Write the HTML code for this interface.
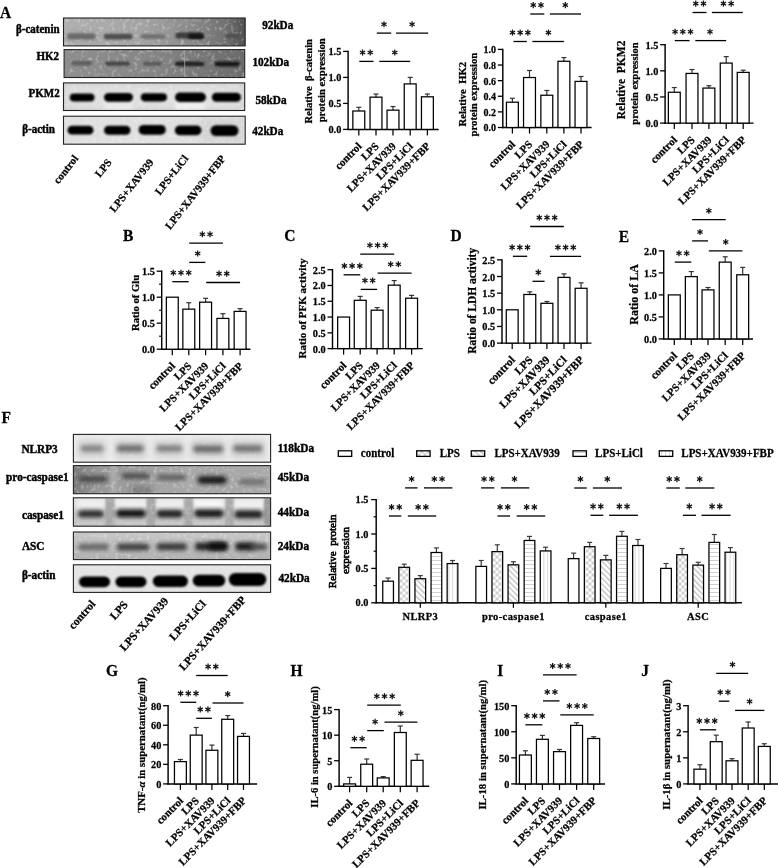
<!DOCTYPE html><html><head><meta charset="utf-8"><style>html,body{margin:0;padding:0;background:#fff;}svg{display:block;will-change:transform;filter:blur(0.3px);}</style></head><body>
<svg width="778" height="868" viewBox="0 0 778 868">
<defs>
<g id="star" fill="#111"><path d="M-0.62,-3.05 h1.24 v6.1 h-1.24z"/><path d="M-0.62,-3.05 h1.24 v6.1 h-1.24z" transform="rotate(60)"/><path d="M-0.62,-3.05 h1.24 v6.1 h-1.24z" transform="rotate(-60)"/></g>
<filter id="b1" x="-50%" y="-50%" width="200%" height="200%"><feGaussianBlur stdDeviation="1.2"/></filter>
<filter id="b2" x="-50%" y="-50%" width="200%" height="200%"><feGaussianBlur stdDeviation="2"/></filter>
<filter id="b3" x="-50%" y="-50%" width="200%" height="200%"><feGaussianBlur stdDeviation="3"/></filter>
<pattern id="pcross" width="6" height="6" patternUnits="userSpaceOnUse" x="0.5" y="0.5"><rect width="6" height="6" fill="#fff"/><rect width="3" height="3" fill="#cfcfcf"/><rect x="3" y="3" width="3" height="3" fill="#cfcfcf"/></pattern>
<pattern id="pdiag" width="4" height="4" patternUnits="userSpaceOnUse" patternTransform="rotate(-45)"><rect width="4" height="4" fill="#fff"/><rect width="1.3" height="4" fill="#bdbdbd"/></pattern>
<pattern id="phor" width="4" height="4" patternUnits="userSpaceOnUse"><rect width="4" height="4" fill="#fff"/><rect width="4" height="0.9" fill="#cccccc"/></pattern>
<pattern id="pver" width="3.8" height="4" patternUnits="userSpaceOnUse"><rect width="3.8" height="4" fill="#fff"/><rect width="0.7" height="4" fill="#c8c8c8"/></pattern>
</defs>
<rect width="778" height="868" fill="#fff"/>
<defs>
<filter id="nz" x="0" y="0" width="100%" height="100%"><feTurbulence type="fractalNoise" baseFrequency="0.26" numOctaves="2" seed="11" result="t"/><feColorMatrix in="t" type="matrix" values="0 0 0 0 1  0 0 0 0 1  0 0 0 0 1  0 0 0 4 -2.1"/></filter>
<linearGradient id="gbc" x1="0" x2="1" y1="0" y2="0"><stop offset="0" stop-color="#b0b0b0"/><stop offset="0.45" stop-color="#a2a2a2"/><stop offset="0.72" stop-color="#888"/><stop offset="0.9" stop-color="#707070"/><stop offset="1" stop-color="#505050"/></linearGradient>
<linearGradient id="ghk" x1="0" x2="1" y1="0" y2="0"><stop offset="0" stop-color="#8e8e8e"/><stop offset="0.5" stop-color="#858585"/><stop offset="1" stop-color="#6a6a6a"/></linearGradient>
<linearGradient id="gpc" x1="0" x2="1" y1="0" y2="0"><stop offset="0" stop-color="#7a7a7a"/><stop offset="0.12" stop-color="#969696"/><stop offset="0.5" stop-color="#a6a6a6"/><stop offset="1" stop-color="#a8a8a8"/></linearGradient>
<linearGradient id="gcs" x1="0" x2="0" y1="0" y2="1"><stop offset="0" stop-color="#dcdcdc"/><stop offset="0.5" stop-color="#cfcfcf"/><stop offset="1" stop-color="#c4c4c4"/></linearGradient>
<linearGradient id="gasc" x1="0" x2="0" y1="0" y2="1"><stop offset="0" stop-color="#c8c8c8"/><stop offset="1" stop-color="#b0b0b0"/></linearGradient>
</defs>
<clipPath id="c63_18"><rect x="63.5" y="18.0" width="181.70" height="27.90"/></clipPath>
<g clip-path="url(#c63_18)">
<rect x="63.5" y="18.0" width="181.70" height="27.90" fill="url(#gbc)"/>
<rect x="66.00" y="32.00" width="32.00" height="9.00" fill="#8a8a8a" opacity="0.5" filter="url(#b2)"/>
<rect x="63.5" y="18.0" width="181.70" height="27.90" fill="#fff" filter="url(#nz)" opacity="0.28"/>
<rect x="67.50" y="33.60" width="27.50" height="5.60" rx="2.80" fill="#666" opacity="0.95" filter="url(#b1)"/>
<rect x="103.70" y="33.80" width="28.80" height="5.60" rx="2.80" fill="#4e4e4e" opacity="1.0" filter="url(#b1)"/>
<rect x="140.60" y="34.10" width="24.90" height="5.00" rx="2.50" fill="#727272" opacity="1.0" filter="url(#b1)"/>
<rect x="175.50" y="32.30" width="27.50" height="6.20" rx="3.10" fill="#3c3c3c" opacity="1.0" filter="url(#b1)"/>
<rect x="188.00" y="33.70" width="16.00" height="5.40" rx="2.70" fill="#161616" opacity="1.0" filter="url(#b1)"/>
<rect x="225.50" y="33.80" width="14.00" height="4.40" rx="2.20" fill="#505050" opacity="1.0" filter="url(#b1)"/>
</g>
<rect x="63.5" y="18.0" width="181.70" height="27.90" fill="none" stroke="#222" stroke-width="1.1"/>
<clipPath id="c64_49"><rect x="64.1" y="49.6" width="180.60" height="27.90"/></clipPath>
<g clip-path="url(#c64_49)">
<rect x="64.1" y="49.6" width="180.60" height="27.90" fill="url(#ghk)"/>
<rect x="64.1" y="49.6" width="180.60" height="27.90" fill="#fff" filter="url(#nz)" opacity="0.28"/>
<rect x="71.50" y="61.10" width="20.50" height="4.40" rx="2.20" fill="#5e5e5e" opacity="1.0" filter="url(#b1)"/>
<rect x="105.20" y="61.40" width="24.80" height="4.40" rx="2.20" fill="#444" opacity="1.0" filter="url(#b1)"/>
<rect x="143.00" y="61.80" width="18.50" height="4.00" rx="2.00" fill="#585858" opacity="1.0" filter="url(#b1)"/>
<rect x="175.00" y="61.40" width="29.50" height="4.80" rx="2.40" fill="#222" opacity="1.0" filter="url(#b1)"/>
<rect x="214.50" y="61.60" width="25.50" height="4.80" rx="2.40" fill="#181818" opacity="1.0" filter="url(#b1)"/>
<rect x="184" y="49.6" width="1.2" height="28" fill="#b0b0b0" opacity="0.6"/>
</g>
<rect x="64.1" y="49.6" width="180.60" height="27.90" fill="none" stroke="#222" stroke-width="1.1"/>
<clipPath id="c63_82"><rect x="63.5" y="82.9" width="181.20" height="27.60"/></clipPath>
<g clip-path="url(#c63_82)">
<rect x="63.5" y="82.9" width="181.20" height="27.60" fill="#d2d2d2"/>
<rect x="66.00" y="86.00" width="175.00" height="22.00" fill="#e4e4e4" opacity="0.8" filter="url(#b3)"/>
<rect x="175.00" y="102.00" width="30.00" height="8.00" fill="#f2f2f2" opacity="0.9" filter="url(#b2)"/>
<rect x="104.00" y="102.00" width="29.00" height="8.00" fill="#eeeeee" opacity="0.8" filter="url(#b2)"/>
<rect x="63.5" y="82.9" width="181.20" height="27.60" fill="#fff" filter="url(#nz)" opacity="0.28"/>
<rect x="69.80" y="93.60" width="24.70" height="8.00" rx="4.00" fill="#060606" opacity="1.0" filter="url(#b1)"/>
<rect x="104.00" y="92.90" width="29.00" height="8.80" rx="4.40" fill="#060606" opacity="1.0" filter="url(#b1)"/>
<rect x="140.80" y="93.20" width="26.20" height="8.20" rx="4.10" fill="#060606" opacity="1.0" filter="url(#b1)"/>
<rect x="175.00" y="92.60" width="31.00" height="9.40" rx="4.70" fill="#060606" opacity="1.0" filter="url(#b1)"/>
<rect x="211.80" y="92.70" width="29.20" height="9.00" rx="4.50" fill="#060606" opacity="1.0" filter="url(#b1)"/>
</g>
<rect x="63.5" y="82.9" width="181.20" height="27.60" fill="none" stroke="#222" stroke-width="1.1"/>
<clipPath id="c63_116"><rect x="63.5" y="116.2" width="181.70" height="28.00"/></clipPath>
<g clip-path="url(#c63_116)">
<rect x="63.5" y="116.2" width="181.70" height="28.00" fill="#e0e0e0"/>
<rect x="200.00" y="117.00" width="45.00" height="27.00" fill="#d0d0d0" opacity="0.7" filter="url(#b3)"/>
<rect x="63.5" y="116.2" width="181.70" height="28.00" fill="#fff" filter="url(#nz)" opacity="0.28"/>
<rect x="67.50" y="125.80" width="26.00" height="8.80" rx="4.40" fill="#060606" opacity="1.0" filter="url(#b1)"/>
<rect x="104.00" y="125.70" width="26.50" height="9.00" rx="4.50" fill="#060606" opacity="1.0" filter="url(#b1)"/>
<rect x="138.60" y="124.90" width="27.20" height="9.80" rx="4.90" fill="#060606" opacity="1.0" filter="url(#b1)"/>
<rect x="174.80" y="125.60" width="26.70" height="9.60" rx="4.80" fill="#060606" opacity="1.0" filter="url(#b1)"/>
<rect x="210.50" y="125.20" width="28.00" height="10.80" rx="5.40" fill="#060606" opacity="1.0" filter="url(#b1)"/>
</g>
<rect x="63.5" y="116.2" width="181.70" height="28.00" fill="none" stroke="#222" stroke-width="1.1"/>
<text x="0" y="0" transform="translate(16.00,32.60) scale(1,1.06)" font-size="11" text-anchor="start" font-weight="bold" font-family='"Liberation Serif", serif' fill="#000" stroke="#000" stroke-width="0.4" >β-catenin</text>
<text x="0" y="0" transform="translate(36.50,60.10) scale(1,1.06)" font-size="11" text-anchor="start" font-weight="bold" font-family='"Liberation Serif", serif' fill="#000" stroke="#000" stroke-width="0.4" >HK2</text>
<text x="0" y="0" transform="translate(28.60,97.40) scale(1,1.06)" font-size="11" text-anchor="start" font-weight="bold" font-family='"Liberation Serif", serif' fill="#000" stroke="#000" stroke-width="0.4" >PKM2</text>
<text x="0" y="0" transform="translate(22.20,133.40) scale(1,1.06)" font-size="11" text-anchor="start" font-weight="bold" font-family='"Liberation Serif", serif' fill="#000" stroke="#000" stroke-width="0.4" >β-actin</text>
<text x="0" y="0" transform="translate(262.20,28.80) scale(1,1.06)" font-size="11.2" text-anchor="start" font-weight="bold" font-family='"Liberation Serif", serif' fill="#000" stroke="#000" stroke-width="0.4" >92kDa</text>
<text x="0" y="0" transform="translate(252.40,66.40) scale(1,1.06)" font-size="11.2" text-anchor="start" font-weight="bold" font-family='"Liberation Serif", serif' fill="#000" stroke="#000" stroke-width="0.4" >102kDa</text>
<text x="0" y="0" transform="translate(255.40,103.60) scale(1,1.06)" font-size="11.2" text-anchor="start" font-weight="bold" font-family='"Liberation Serif", serif' fill="#000" stroke="#000" stroke-width="0.4" >58kDa</text>
<text x="0" y="0" transform="translate(252.20,135.20) scale(1,1.06)" font-size="11.2" text-anchor="start" font-weight="bold" font-family='"Liberation Serif", serif' fill="#000" stroke="#000" stroke-width="0.4" >42kDa</text>
<text x="0" y="0" transform="translate(78.80,158.70) rotate(-52)" font-size="10.8" text-anchor="end" font-weight="bold" font-family='"Liberation Serif", serif' fill="#000" stroke="#000" stroke-width="0.25" >control</text>
<text x="0" y="0" transform="translate(112.20,162.50) rotate(-52)" font-size="10.8" text-anchor="end" font-weight="bold" font-family='"Liberation Serif", serif' fill="#000" stroke="#000" stroke-width="0.25" >LPS</text>
<text x="0" y="0" transform="translate(154.10,162.50) rotate(-52)" font-size="10.8" text-anchor="end" font-weight="bold" font-family='"Liberation Serif", serif' fill="#000" stroke="#000" stroke-width="0.25" >LPS+XAV939</text>
<text x="0" y="0" transform="translate(188.80,158.70) rotate(-52)" font-size="10.8" text-anchor="end" font-weight="bold" font-family='"Liberation Serif", serif' fill="#000" stroke="#000" stroke-width="0.25" >LPS+LiCl</text>
<text x="0" y="0" transform="translate(226.10,158.70) rotate(-52)" font-size="10.8" text-anchor="end" font-weight="bold" font-family='"Liberation Serif", serif' fill="#000" stroke="#000" stroke-width="0.25" >LPS+XAV939+FBP</text>
<clipPath id="c73_434"><rect x="73.4" y="434.4" width="197.20" height="27.80"/></clipPath>
<g clip-path="url(#c73_434)">
<rect x="73.4" y="434.4" width="197.20" height="27.80" fill="#ececec"/>
<rect x="78.00" y="440.00" width="28.00" height="18.00" fill="#cfcfcf" opacity="1.0" filter="url(#b3)"/>
<rect x="115.00" y="440.00" width="31.00" height="18.00" fill="#cccccc" opacity="1.0" filter="url(#b3)"/>
<rect x="154.00" y="440.00" width="30.00" height="18.00" fill="#d0d0d0" opacity="1.0" filter="url(#b3)"/>
<rect x="191.00" y="440.00" width="34.00" height="18.00" fill="#cbcbcb" opacity="1.0" filter="url(#b3)"/>
<rect x="231.00" y="440.00" width="34.00" height="18.00" fill="#cdcdcd" opacity="1.0" filter="url(#b3)"/>
<rect x="73.4" y="434.4" width="197.20" height="27.80" fill="#fff" filter="url(#nz)" opacity="0.2"/>
<rect x="80.70" y="445.60" width="22.60" height="6.00" rx="3.00" fill="#808080" opacity="1.0" filter="url(#b2)"/>
<rect x="116.80" y="445.15" width="26.80" height="6.50" rx="3.25" fill="#6c6c6c" opacity="1.0" filter="url(#b2)"/>
<rect x="156.40" y="445.60" width="25.80" height="6.00" rx="3.00" fill="#7a7a7a" opacity="1.0" filter="url(#b2)"/>
<rect x="193.40" y="445.75" width="29.70" height="6.50" rx="3.25" fill="#666" opacity="1.0" filter="url(#b2)"/>
<rect x="233.30" y="445.25" width="29.10" height="6.50" rx="3.25" fill="#707070" opacity="1.0" filter="url(#b2)"/>
</g>
<rect x="73.4" y="434.4" width="197.20" height="27.80" fill="none" stroke="#222" stroke-width="1.1"/>
<clipPath id="c73_465"><rect x="73.4" y="465.6" width="197.20" height="28.10"/></clipPath>
<g clip-path="url(#c73_465)">
<rect x="73.4" y="465.6" width="197.20" height="28.10" fill="url(#gpc)"/>
<rect x="111.00" y="466.00" width="5.00" height="28.00" fill="#b8b8b8" opacity="0.8" filter="url(#b2)"/>
<rect x="185.00" y="466.00" width="8.00" height="28.00" fill="#b0b0b0" opacity="0.6" filter="url(#b2)"/>
<rect x="130.00" y="486.00" width="22.00" height="8.00" fill="#6a6a6a" opacity="0.6" filter="url(#b2)"/>
<rect x="73.4" y="465.6" width="197.20" height="28.10" fill="#fff" filter="url(#nz)" opacity="0.28"/>
<rect x="78.60" y="475.65" width="29.00" height="6.50" rx="3.25" fill="#4a4a4a" opacity="1.0" filter="url(#b2)"/>
<rect x="121.70" y="473.25" width="28.30" height="5.50" rx="2.75" fill="#4a4a4a" opacity="1.0" filter="url(#b2)"/>
<rect x="157.00" y="474.75" width="29.00" height="5.50" rx="2.75" fill="#5c5c5c" opacity="1.0" filter="url(#b2)"/>
<rect x="197.70" y="476.25" width="29.00" height="7.50" rx="3.75" fill="#181818" opacity="1.0" filter="url(#b2)"/>
<rect x="238.70" y="479.25" width="27.30" height="5.50" rx="2.75" fill="#6a6a6a" opacity="1.0" filter="url(#b2)"/>
</g>
<rect x="73.4" y="465.6" width="197.20" height="28.10" fill="none" stroke="#222" stroke-width="1.1"/>
<clipPath id="c73_497"><rect x="73.4" y="497.8" width="197.20" height="28.40"/></clipPath>
<g clip-path="url(#c73_497)">
<rect x="73.4" y="497.8" width="197.20" height="28.40" fill="url(#gcs)"/>
<rect x="76.00" y="499.00" width="30.00" height="10.00" fill="#eeeeee" opacity="1.0" filter="url(#b2)"/>
<rect x="115.00" y="499.00" width="32.00" height="10.00" fill="#eeeeee" opacity="1.0" filter="url(#b2)"/>
<rect x="156.00" y="499.00" width="28.00" height="10.00" fill="#ececec" opacity="1.0" filter="url(#b2)"/>
<rect x="194.00" y="499.00" width="30.00" height="10.00" fill="#f6f6f6" opacity="1.0" filter="url(#b2)"/>
<rect x="234.00" y="499.00" width="30.00" height="10.00" fill="#f0f0f0" opacity="1.0" filter="url(#b2)"/>
<rect x="105.50" y="498.00" width="9.00" height="28.00" fill="#a8a8a8" opacity="1.0" filter="url(#b1)"/>
<rect x="146.50" y="498.00" width="9.00" height="28.00" fill="#a8a8a8" opacity="1.0" filter="url(#b1)"/>
<rect x="184.00" y="498.00" width="9.00" height="28.00" fill="#aaaaaa" opacity="1.0" filter="url(#b1)"/>
<rect x="225.50" y="498.00" width="8.00" height="28.00" fill="#a8a8a8" opacity="1.0" filter="url(#b1)"/>
<rect x="264.00" y="498.00" width="8.00" height="28.00" fill="#9a9a9a" opacity="1.0" filter="url(#b1)"/>
<rect x="73.4" y="497.8" width="197.20" height="28.40" fill="#fff" filter="url(#nz)" opacity="0.2"/>
<rect x="77.90" y="510.20" width="26.10" height="7.40" rx="3.70" fill="#2a2a2a" opacity="1.0" filter="url(#b2)"/>
<rect x="116.00" y="509.50" width="29.80" height="7.80" rx="3.90" fill="#101010" opacity="1.0" filter="url(#b2)"/>
<rect x="156.40" y="510.00" width="26.60" height="7.60" rx="3.80" fill="#1c1c1c" opacity="1.0" filter="url(#b2)"/>
<rect x="194.20" y="509.40" width="29.60" height="7.80" rx="3.90" fill="#141414" opacity="1.0" filter="url(#b2)"/>
<rect x="234.40" y="510.50" width="28.30" height="7.80" rx="3.90" fill="#1a1a1a" opacity="1.0" filter="url(#b2)"/>
</g>
<rect x="73.4" y="497.8" width="197.20" height="28.40" fill="none" stroke="#222" stroke-width="1.1"/>
<clipPath id="c73_532"><rect x="73.4" y="532.0" width="197.20" height="27.60"/></clipPath>
<g clip-path="url(#c73_532)">
<rect x="73.4" y="532.0" width="197.20" height="27.60" fill="url(#gasc)"/>
<rect x="73.4" y="532.0" width="197.20" height="27.60" fill="#fff" filter="url(#nz)" opacity="0.28"/>
<rect x="78.00" y="543.85" width="31.00" height="6.50" rx="3.25" fill="#666" opacity="1.0" filter="url(#b2)"/>
<rect x="116.80" y="543.50" width="32.50" height="7.00" rx="3.50" fill="#3c3c3c" opacity="1.0" filter="url(#b2)"/>
<rect x="156.40" y="543.30" width="30.60" height="7.00" rx="3.50" fill="#363636" opacity="1.0" filter="url(#b2)"/>
<rect x="194.90" y="542.40" width="32.50" height="8.00" rx="4.00" fill="#202020" opacity="1.0" filter="url(#b2)"/>
<rect x="208.00" y="542.45" width="19.40" height="7.50" rx="3.75" fill="#0c0c0c" opacity="1.0" filter="url(#b2)"/>
<rect x="235.20" y="542.40" width="19.80" height="8.00" rx="4.00" fill="#161616" opacity="1.0" filter="url(#b2)"/>
<rect x="250.00" y="543.55" width="17.00" height="6.50" rx="3.25" fill="#484848" opacity="1.0" filter="url(#b2)"/>
</g>
<rect x="73.4" y="532.0" width="197.20" height="27.60" fill="none" stroke="#222" stroke-width="1.1"/>
<clipPath id="c73_564"><rect x="73.4" y="564.8" width="197.20" height="27.60"/></clipPath>
<g clip-path="url(#c73_564)">
<rect x="73.4" y="564.8" width="197.20" height="27.60" fill="#e4e4e4"/>
<rect x="73.4" y="564.8" width="197.20" height="27.60" fill="#fff" filter="url(#nz)" opacity="0.2"/>
<rect x="79.00" y="576.40" width="31.10" height="10.80" rx="5.40" fill="#040404" opacity="1.0" filter="url(#b1)"/>
<rect x="115.40" y="576.40" width="31.10" height="10.80" rx="5.40" fill="#040404" opacity="1.0" filter="url(#b1)"/>
<rect x="152.80" y="575.50" width="35.20" height="11.40" rx="5.70" fill="#040404" opacity="1.0" filter="url(#b1)"/>
<rect x="192.70" y="574.80" width="32.60" height="11.60" rx="5.80" fill="#040404" opacity="1.0" filter="url(#b1)"/>
<rect x="228.80" y="572.90" width="37.50" height="13.00" rx="6.50" fill="#040404" opacity="1.0" filter="url(#b1)"/>
</g>
<rect x="73.4" y="564.8" width="197.20" height="27.60" fill="none" stroke="#222" stroke-width="1.1"/>
<text x="0" y="0" transform="translate(21.40,452.60) scale(1,1.06)" font-size="11.3" text-anchor="start" font-weight="bold" font-family='"Liberation Serif", serif' fill="#000" stroke="#000" stroke-width="0.4" >NLRP3</text>
<text x="0" y="0" transform="translate(6.10,480.60) scale(1,1.06)" font-size="11.3" text-anchor="start" font-weight="bold" font-family='"Liberation Serif", serif' fill="#000" stroke="#000" stroke-width="0.4" >pro-caspase1</text>
<text x="0" y="0" transform="translate(21.90,519.20) scale(1,1.06)" font-size="11.3" text-anchor="start" font-weight="bold" font-family='"Liberation Serif", serif' fill="#000" stroke="#000" stroke-width="0.4" >caspase1</text>
<text x="0" y="0" transform="translate(21.90,549.80) scale(1,1.06)" font-size="11.3" text-anchor="start" font-weight="bold" font-family='"Liberation Serif", serif' fill="#000" stroke="#000" stroke-width="0.4" >ASC</text>
<text x="0" y="0" transform="translate(21.90,579.40) scale(1,1.06)" font-size="11.3" text-anchor="start" font-weight="bold" font-family='"Liberation Serif", serif' fill="#000" stroke="#000" stroke-width="0.4" >β-actin</text>
<text x="0" y="0" transform="translate(277.70,452.40) scale(1,1.06)" font-size="11.3" text-anchor="start" font-weight="bold" font-family='"Liberation Serif", serif' fill="#000" stroke="#000" stroke-width="0.4" >118kDa</text>
<text x="0" y="0" transform="translate(277.70,480.60) scale(1,1.06)" font-size="11.3" text-anchor="start" font-weight="bold" font-family='"Liberation Serif", serif' fill="#000" stroke="#000" stroke-width="0.4" >45kDa</text>
<text x="0" y="0" transform="translate(277.70,516.00) scale(1,1.06)" font-size="11.3" text-anchor="start" font-weight="bold" font-family='"Liberation Serif", serif' fill="#000" stroke="#000" stroke-width="0.4" >44kDa</text>
<text x="0" y="0" transform="translate(277.70,549.60) scale(1,1.06)" font-size="11.3" text-anchor="start" font-weight="bold" font-family='"Liberation Serif", serif' fill="#000" stroke="#000" stroke-width="0.4" >24kDa</text>
<text x="0" y="0" transform="translate(278.40,582.00) scale(1,1.06)" font-size="11.3" text-anchor="start" font-weight="bold" font-family='"Liberation Serif", serif' fill="#000" stroke="#000" stroke-width="0.4" >42kDa</text>
<text x="0" y="0" transform="translate(96.20,604.40) rotate(-48.5)" font-size="11.3" text-anchor="end" font-weight="bold" font-family='"Liberation Serif", serif' fill="#000" stroke="#000" stroke-width="0.25" >control</text>
<text x="0" y="0" transform="translate(128.40,605.00) rotate(-48.5)" font-size="11.3" text-anchor="end" font-weight="bold" font-family='"Liberation Serif", serif' fill="#000" stroke="#000" stroke-width="0.25" >LPS</text>
<text x="0" y="0" transform="translate(168.90,601.60) rotate(-48.5)" font-size="11.3" text-anchor="end" font-weight="bold" font-family='"Liberation Serif", serif' fill="#000" stroke="#000" stroke-width="0.25" >LPS+XAV939</text>
<text x="0" y="0" transform="translate(206.50,604.40) rotate(-48.5)" font-size="11.3" text-anchor="end" font-weight="bold" font-family='"Liberation Serif", serif' fill="#000" stroke="#000" stroke-width="0.25" >LPS+LiCl</text>
<text x="0" y="0" transform="translate(246.60,600.20) rotate(-48.5)" font-size="11.3" text-anchor="end" font-weight="bold" font-family='"Liberation Serif", serif' fill="#000" stroke="#000" stroke-width="0.25" >LPS+XAV939+FBP</text>
<line x1="348.10" y1="50.70" x2="348.10" y2="130.10" stroke="#000" stroke-width="1.45"/>
<line x1="347.40" y1="129.40" x2="438.60" y2="129.40" stroke="#000" stroke-width="1.45"/>
<line x1="343.10" y1="129.40" x2="348.10" y2="129.40" stroke="#000" stroke-width="1.3"/>
<text x="0" y="0" transform="translate(341.30,133.40) scale(1,1.06)" font-size="10.3" text-anchor="end" font-weight="bold" font-family='"Liberation Serif", serif' fill="#000" stroke="#000" stroke-width="0.25" >0.0</text>
<line x1="343.10" y1="103.40" x2="348.10" y2="103.40" stroke="#000" stroke-width="1.3"/>
<text x="0" y="0" transform="translate(341.30,107.40) scale(1,1.06)" font-size="10.3" text-anchor="end" font-weight="bold" font-family='"Liberation Serif", serif' fill="#000" stroke="#000" stroke-width="0.25" >0.5</text>
<line x1="343.10" y1="77.40" x2="348.10" y2="77.40" stroke="#000" stroke-width="1.3"/>
<text x="0" y="0" transform="translate(341.30,81.40) scale(1,1.06)" font-size="10.3" text-anchor="end" font-weight="bold" font-family='"Liberation Serif", serif' fill="#000" stroke="#000" stroke-width="0.25" >1.0</text>
<line x1="343.10" y1="51.40" x2="348.10" y2="51.40" stroke="#000" stroke-width="1.3"/>
<text x="0" y="0" transform="translate(341.30,55.40) scale(1,1.06)" font-size="10.3" text-anchor="end" font-weight="bold" font-family='"Liberation Serif", serif' fill="#000" stroke="#000" stroke-width="0.25" >1.5</text>
<line x1="358.80" y1="129.40" x2="358.80" y2="135.40" stroke="#000" stroke-width="1.25"/>
<line x1="376.00" y1="129.40" x2="376.00" y2="135.40" stroke="#000" stroke-width="1.25"/>
<line x1="393.00" y1="129.40" x2="393.00" y2="135.40" stroke="#000" stroke-width="1.25"/>
<line x1="410.20" y1="129.40" x2="410.20" y2="135.40" stroke="#000" stroke-width="1.25"/>
<line x1="427.40" y1="129.40" x2="427.40" y2="135.40" stroke="#000" stroke-width="1.25"/>
<line x1="358.80" y1="110.99" x2="358.80" y2="107.30" stroke="#333" stroke-width="1.2"/>
<line x1="356.30" y1="107.30" x2="361.30" y2="107.30" stroke="#333" stroke-width="1.2"/>
<rect x="352.85" y="110.99" width="11.90" height="18.41" fill="#fff" stroke="#000" stroke-width="1.25"/>
<line x1="376.00" y1="97.16" x2="376.00" y2="94.04" stroke="#333" stroke-width="1.2"/>
<line x1="373.50" y1="94.04" x2="378.50" y2="94.04" stroke="#333" stroke-width="1.2"/>
<rect x="370.05" y="97.16" width="11.90" height="32.24" fill="#fff" stroke="#000" stroke-width="1.25"/>
<line x1="393.00" y1="110.16" x2="393.00" y2="106.52" stroke="#333" stroke-width="1.2"/>
<line x1="390.50" y1="106.52" x2="395.50" y2="106.52" stroke="#333" stroke-width="1.2"/>
<rect x="387.05" y="110.16" width="11.90" height="19.24" fill="#fff" stroke="#000" stroke-width="1.25"/>
<line x1="410.20" y1="83.90" x2="410.20" y2="77.40" stroke="#333" stroke-width="1.2"/>
<line x1="407.70" y1="77.40" x2="412.70" y2="77.40" stroke="#333" stroke-width="1.2"/>
<rect x="404.25" y="83.90" width="11.90" height="45.50" fill="#fff" stroke="#000" stroke-width="1.25"/>
<line x1="427.40" y1="96.80" x2="427.40" y2="94.04" stroke="#333" stroke-width="1.2"/>
<line x1="424.90" y1="94.04" x2="429.90" y2="94.04" stroke="#333" stroke-width="1.2"/>
<rect x="421.45" y="96.80" width="11.90" height="32.60" fill="#fff" stroke="#000" stroke-width="1.25"/>
<line x1="359.30" y1="61.40" x2="373.50" y2="61.40" stroke="#000" stroke-width="1.3"/>
<use href="#star" transform="translate(362.55,52.50) scale(1.000)"/>
<use href="#star" transform="translate(370.25,52.50) scale(1.000)"/>
<line x1="379.30" y1="61.40" x2="410.20" y2="61.40" stroke="#000" stroke-width="1.3"/>
<use href="#star" transform="translate(394.75,52.50) scale(1.000)"/>
<line x1="376.80" y1="33.10" x2="391.20" y2="33.10" stroke="#000" stroke-width="1.3"/>
<use href="#star" transform="translate(384.00,24.20) scale(1.000)"/>
<line x1="396.00" y1="33.10" x2="428.20" y2="33.10" stroke="#000" stroke-width="1.3"/>
<use href="#star" transform="translate(412.10,24.20) scale(1.000)"/>
<text x="0" y="0" transform="translate(311.80,81.20) rotate(-90)" font-size="10.6" text-anchor="middle" font-weight="bold" font-family='"Liberation Serif", serif' fill="#000" stroke="#000" stroke-width="0.25" >Relative&#160;&#160;β-catenin</text>
<text x="0" y="0" transform="translate(324.70,80.30) rotate(-90)" font-size="10.75" text-anchor="middle" font-weight="bold" font-family='"Liberation Serif", serif' fill="#000" stroke="#000" stroke-width="0.25" >protein expression</text>
<text x="0" y="0" transform="translate(362.30,146.90) scale(1,1.01) rotate(-45)" font-size="10.8" text-anchor="end" font-weight="bold" font-family='"Liberation Serif", serif' fill="#000" stroke="#000" stroke-width="0.25" >control</text>
<text x="0" y="0" transform="translate(379.50,146.90) scale(1,1.01) rotate(-45)" font-size="10.8" text-anchor="end" font-weight="bold" font-family='"Liberation Serif", serif' fill="#000" stroke="#000" stroke-width="0.25" >LPS</text>
<text x="0" y="0" transform="translate(396.50,146.90) scale(1,1.01) rotate(-45)" font-size="10.8" text-anchor="end" font-weight="bold" font-family='"Liberation Serif", serif' fill="#000" stroke="#000" stroke-width="0.25" >LPS+XAV939</text>
<text x="0" y="0" transform="translate(413.70,146.90) scale(1,1.01) rotate(-45)" font-size="10.8" text-anchor="end" font-weight="bold" font-family='"Liberation Serif", serif' fill="#000" stroke="#000" stroke-width="0.25" >LPS+LiCl</text>
<text x="0" y="0" transform="translate(430.90,146.90) scale(1,1.01) rotate(-45)" font-size="10.8" text-anchor="end" font-weight="bold" font-family='"Liberation Serif", serif' fill="#000" stroke="#000" stroke-width="0.25" >LPS+XAV939+FBP</text>
<line x1="502.80" y1="48.70" x2="502.80" y2="128.20" stroke="#000" stroke-width="1.45"/>
<line x1="502.10" y1="127.50" x2="591.60" y2="127.50" stroke="#000" stroke-width="1.45"/>
<line x1="497.80" y1="127.50" x2="502.80" y2="127.50" stroke="#000" stroke-width="1.3"/>
<text x="0" y="0" transform="translate(496.00,131.40) scale(1,1.06)" font-size="10.0" text-anchor="end" font-weight="bold" font-family='"Liberation Serif", serif' fill="#000" stroke="#000" stroke-width="0.25" >0.0</text>
<line x1="497.80" y1="111.88" x2="502.80" y2="111.88" stroke="#000" stroke-width="1.3"/>
<text x="0" y="0" transform="translate(496.00,115.78) scale(1,1.06)" font-size="10.0" text-anchor="end" font-weight="bold" font-family='"Liberation Serif", serif' fill="#000" stroke="#000" stroke-width="0.25" >0.2</text>
<line x1="497.80" y1="96.26" x2="502.80" y2="96.26" stroke="#000" stroke-width="1.3"/>
<text x="0" y="0" transform="translate(496.00,100.16) scale(1,1.06)" font-size="10.0" text-anchor="end" font-weight="bold" font-family='"Liberation Serif", serif' fill="#000" stroke="#000" stroke-width="0.25" >0.4</text>
<line x1="497.80" y1="80.64" x2="502.80" y2="80.64" stroke="#000" stroke-width="1.3"/>
<text x="0" y="0" transform="translate(496.00,84.54) scale(1,1.06)" font-size="10.0" text-anchor="end" font-weight="bold" font-family='"Liberation Serif", serif' fill="#000" stroke="#000" stroke-width="0.25" >0.6</text>
<line x1="497.80" y1="65.02" x2="502.80" y2="65.02" stroke="#000" stroke-width="1.3"/>
<text x="0" y="0" transform="translate(496.00,68.92) scale(1,1.06)" font-size="10.0" text-anchor="end" font-weight="bold" font-family='"Liberation Serif", serif' fill="#000" stroke="#000" stroke-width="0.25" >0.8</text>
<line x1="497.80" y1="49.40" x2="502.80" y2="49.40" stroke="#000" stroke-width="1.3"/>
<text x="0" y="0" transform="translate(496.00,53.30) scale(1,1.06)" font-size="10.0" text-anchor="end" font-weight="bold" font-family='"Liberation Serif", serif' fill="#000" stroke="#000" stroke-width="0.25" >1.0</text>
<line x1="512.40" y1="127.50" x2="512.40" y2="133.50" stroke="#000" stroke-width="1.25"/>
<line x1="529.50" y1="127.50" x2="529.50" y2="133.50" stroke="#000" stroke-width="1.25"/>
<line x1="546.80" y1="127.50" x2="546.80" y2="133.50" stroke="#000" stroke-width="1.25"/>
<line x1="563.90" y1="127.50" x2="563.90" y2="133.50" stroke="#000" stroke-width="1.25"/>
<line x1="581.00" y1="127.50" x2="581.00" y2="133.50" stroke="#000" stroke-width="1.25"/>
<line x1="512.40" y1="102.20" x2="512.40" y2="98.29" stroke="#333" stroke-width="1.2"/>
<line x1="509.90" y1="98.29" x2="514.90" y2="98.29" stroke="#333" stroke-width="1.2"/>
<rect x="506.45" y="102.20" width="11.90" height="25.30" fill="#fff" stroke="#000" stroke-width="1.25"/>
<line x1="529.50" y1="77.52" x2="529.50" y2="70.49" stroke="#333" stroke-width="1.2"/>
<line x1="527.00" y1="70.49" x2="532.00" y2="70.49" stroke="#333" stroke-width="1.2"/>
<rect x="523.55" y="77.52" width="11.90" height="49.98" fill="#fff" stroke="#000" stroke-width="1.25"/>
<line x1="546.80" y1="95.24" x2="546.80" y2="90.48" stroke="#333" stroke-width="1.2"/>
<line x1="544.30" y1="90.48" x2="549.30" y2="90.48" stroke="#333" stroke-width="1.2"/>
<rect x="540.85" y="95.24" width="11.90" height="32.26" fill="#fff" stroke="#000" stroke-width="1.25"/>
<line x1="563.90" y1="61.27" x2="563.90" y2="57.60" stroke="#333" stroke-width="1.2"/>
<line x1="561.40" y1="57.60" x2="566.40" y2="57.60" stroke="#333" stroke-width="1.2"/>
<rect x="557.95" y="61.27" width="11.90" height="66.23" fill="#fff" stroke="#000" stroke-width="1.25"/>
<line x1="581.00" y1="81.42" x2="581.00" y2="76.50" stroke="#333" stroke-width="1.2"/>
<line x1="578.50" y1="76.50" x2="583.50" y2="76.50" stroke="#333" stroke-width="1.2"/>
<rect x="575.05" y="81.42" width="11.90" height="46.08" fill="#fff" stroke="#000" stroke-width="1.25"/>
<line x1="513.50" y1="41.50" x2="526.80" y2="41.50" stroke="#000" stroke-width="1.3"/>
<use href="#star" transform="translate(512.50,32.60) scale(1.000)"/>
<use href="#star" transform="translate(520.20,32.60) scale(1.000)"/>
<use href="#star" transform="translate(527.90,32.60) scale(1.000)"/>
<line x1="532.40" y1="41.50" x2="563.90" y2="41.50" stroke="#000" stroke-width="1.3"/>
<use href="#star" transform="translate(548.40,32.60) scale(1.000)"/>
<line x1="530.30" y1="14.00" x2="544.30" y2="14.00" stroke="#000" stroke-width="1.3"/>
<use href="#star" transform="translate(533.25,5.10) scale(1.000)"/>
<use href="#star" transform="translate(540.95,5.10) scale(1.000)"/>
<line x1="549.90" y1="14.00" x2="581.00" y2="14.00" stroke="#000" stroke-width="1.3"/>
<use href="#star" transform="translate(565.30,5.10) scale(1.000)"/>
<text x="0" y="0" transform="translate(466.20,94.20) rotate(-90)" font-size="10.7" text-anchor="middle" font-weight="bold" font-family='"Liberation Serif", serif' fill="#000" stroke="#000" stroke-width="0.25" >Relative&#160;&#160;HK2</text>
<text x="0" y="0" transform="translate(477.00,94.60) rotate(-90)" font-size="10.7" text-anchor="middle" font-weight="bold" font-family='"Liberation Serif", serif' fill="#000" stroke="#000" stroke-width="0.25" >protein expression</text>
<text x="0" y="0" transform="translate(515.90,145.00) scale(1,1.01) rotate(-45)" font-size="10.8" text-anchor="end" font-weight="bold" font-family='"Liberation Serif", serif' fill="#000" stroke="#000" stroke-width="0.25" >control</text>
<text x="0" y="0" transform="translate(533.00,145.00) scale(1,1.01) rotate(-45)" font-size="10.8" text-anchor="end" font-weight="bold" font-family='"Liberation Serif", serif' fill="#000" stroke="#000" stroke-width="0.25" >LPS</text>
<text x="0" y="0" transform="translate(550.30,145.00) scale(1,1.01) rotate(-45)" font-size="10.8" text-anchor="end" font-weight="bold" font-family='"Liberation Serif", serif' fill="#000" stroke="#000" stroke-width="0.25" >LPS+XAV939</text>
<text x="0" y="0" transform="translate(567.40,145.00) scale(1,1.01) rotate(-45)" font-size="10.8" text-anchor="end" font-weight="bold" font-family='"Liberation Serif", serif' fill="#000" stroke="#000" stroke-width="0.25" >LPS+LiCl</text>
<text x="0" y="0" transform="translate(584.50,145.00) scale(1,1.01) rotate(-45)" font-size="10.8" text-anchor="end" font-weight="bold" font-family='"Liberation Serif", serif' fill="#000" stroke="#000" stroke-width="0.25" >LPS+XAV939+FBP</text>
<line x1="665.10" y1="43.99" x2="665.10" y2="123.80" stroke="#000" stroke-width="1.45"/>
<line x1="664.40" y1="123.10" x2="753.60" y2="123.10" stroke="#000" stroke-width="1.45"/>
<line x1="660.10" y1="123.10" x2="665.10" y2="123.10" stroke="#000" stroke-width="1.3"/>
<text x="0" y="0" transform="translate(658.30,127.10) scale(1,1.06)" font-size="10.3" text-anchor="end" font-weight="bold" font-family='"Liberation Serif", serif' fill="#000" stroke="#000" stroke-width="0.25" >0.0</text>
<line x1="660.10" y1="96.96" x2="665.10" y2="96.96" stroke="#000" stroke-width="1.3"/>
<text x="0" y="0" transform="translate(658.30,100.97) scale(1,1.06)" font-size="10.3" text-anchor="end" font-weight="bold" font-family='"Liberation Serif", serif' fill="#000" stroke="#000" stroke-width="0.25" >0.5</text>
<line x1="660.10" y1="70.83" x2="665.10" y2="70.83" stroke="#000" stroke-width="1.3"/>
<text x="0" y="0" transform="translate(658.30,74.83) scale(1,1.06)" font-size="10.3" text-anchor="end" font-weight="bold" font-family='"Liberation Serif", serif' fill="#000" stroke="#000" stroke-width="0.25" >1.0</text>
<line x1="660.10" y1="44.69" x2="665.10" y2="44.69" stroke="#000" stroke-width="1.3"/>
<text x="0" y="0" transform="translate(658.30,48.70) scale(1,1.06)" font-size="10.3" text-anchor="end" font-weight="bold" font-family='"Liberation Serif", serif' fill="#000" stroke="#000" stroke-width="0.25" >1.5</text>
<line x1="674.30" y1="123.10" x2="674.30" y2="129.10" stroke="#000" stroke-width="1.25"/>
<line x1="692.00" y1="123.10" x2="692.00" y2="129.10" stroke="#000" stroke-width="1.25"/>
<line x1="708.90" y1="123.10" x2="708.90" y2="129.10" stroke="#000" stroke-width="1.25"/>
<line x1="726.20" y1="123.10" x2="726.20" y2="129.10" stroke="#000" stroke-width="1.25"/>
<line x1="743.20" y1="123.10" x2="743.20" y2="129.10" stroke="#000" stroke-width="1.25"/>
<line x1="674.30" y1="92.26" x2="674.30" y2="87.56" stroke="#333" stroke-width="1.2"/>
<line x1="671.80" y1="87.56" x2="676.80" y2="87.56" stroke="#333" stroke-width="1.2"/>
<rect x="668.35" y="92.26" width="11.90" height="30.84" fill="#fff" stroke="#000" stroke-width="1.25"/>
<line x1="692.00" y1="73.44" x2="692.00" y2="69.52" stroke="#333" stroke-width="1.2"/>
<line x1="689.50" y1="69.52" x2="694.50" y2="69.52" stroke="#333" stroke-width="1.2"/>
<rect x="686.05" y="73.44" width="11.90" height="49.66" fill="#fff" stroke="#000" stroke-width="1.25"/>
<line x1="708.90" y1="88.08" x2="708.90" y2="85.73" stroke="#333" stroke-width="1.2"/>
<line x1="706.40" y1="85.73" x2="711.40" y2="85.73" stroke="#333" stroke-width="1.2"/>
<rect x="702.95" y="88.08" width="11.90" height="35.02" fill="#fff" stroke="#000" stroke-width="1.25"/>
<line x1="726.20" y1="63.09" x2="726.20" y2="56.61" stroke="#333" stroke-width="1.2"/>
<line x1="723.70" y1="56.61" x2="728.70" y2="56.61" stroke="#333" stroke-width="1.2"/>
<rect x="720.25" y="63.09" width="11.90" height="60.01" fill="#fff" stroke="#000" stroke-width="1.25"/>
<line x1="743.20" y1="72.40" x2="743.20" y2="70.20" stroke="#333" stroke-width="1.2"/>
<line x1="740.70" y1="70.20" x2="745.70" y2="70.20" stroke="#333" stroke-width="1.2"/>
<rect x="737.25" y="72.40" width="11.90" height="50.70" fill="#fff" stroke="#000" stroke-width="1.25"/>
<line x1="674.80" y1="40.60" x2="689.50" y2="40.60" stroke="#000" stroke-width="1.3"/>
<use href="#star" transform="translate(675.10,31.70) scale(1.000)"/>
<use href="#star" transform="translate(682.80,31.70) scale(1.000)"/>
<use href="#star" transform="translate(690.50,31.70) scale(1.000)"/>
<line x1="695.30" y1="40.60" x2="726.20" y2="40.60" stroke="#000" stroke-width="1.3"/>
<use href="#star" transform="translate(710.00,31.70) scale(1.000)"/>
<line x1="692.50" y1="12.50" x2="706.50" y2="12.50" stroke="#000" stroke-width="1.3"/>
<use href="#star" transform="translate(695.75,3.60) scale(1.000)"/>
<use href="#star" transform="translate(703.45,3.60) scale(1.000)"/>
<line x1="711.90" y1="12.50" x2="742.80" y2="12.50" stroke="#000" stroke-width="1.3"/>
<use href="#star" transform="translate(723.45,3.60) scale(1.000)"/>
<use href="#star" transform="translate(731.15,3.60) scale(1.000)"/>
<text x="0" y="0" transform="translate(625.40,79.90) rotate(-90)" font-size="11.5" text-anchor="middle" font-weight="bold" font-family='"Liberation Serif", serif' fill="#000" stroke="#000" stroke-width="0.25" >Relative&#160;&#160;PKM2</text>
<text x="0" y="0" transform="translate(637.70,83.60) rotate(-90)" font-size="10.5" text-anchor="middle" font-weight="bold" font-family='"Liberation Serif", serif' fill="#000" stroke="#000" stroke-width="0.25" >protein expression</text>
<text x="0" y="0" transform="translate(677.80,140.60) scale(1,1.01) rotate(-45)" font-size="10.8" text-anchor="end" font-weight="bold" font-family='"Liberation Serif", serif' fill="#000" stroke="#000" stroke-width="0.25" >control</text>
<text x="0" y="0" transform="translate(695.50,140.60) scale(1,1.01) rotate(-45)" font-size="10.8" text-anchor="end" font-weight="bold" font-family='"Liberation Serif", serif' fill="#000" stroke="#000" stroke-width="0.25" >LPS</text>
<text x="0" y="0" transform="translate(712.40,140.60) scale(1,1.01) rotate(-45)" font-size="10.8" text-anchor="end" font-weight="bold" font-family='"Liberation Serif", serif' fill="#000" stroke="#000" stroke-width="0.25" >LPS+XAV939</text>
<text x="0" y="0" transform="translate(729.70,140.60) scale(1,1.01) rotate(-45)" font-size="10.8" text-anchor="end" font-weight="bold" font-family='"Liberation Serif", serif' fill="#000" stroke="#000" stroke-width="0.25" >LPS+LiCl</text>
<text x="0" y="0" transform="translate(746.70,140.60) scale(1,1.01) rotate(-45)" font-size="10.8" text-anchor="end" font-weight="bold" font-family='"Liberation Serif", serif' fill="#000" stroke="#000" stroke-width="0.25" >LPS+XAV939+FBP</text>
<line x1="161.70" y1="270.50" x2="161.70" y2="349.90" stroke="#000" stroke-width="1.45"/>
<line x1="161.00" y1="349.20" x2="250.40" y2="349.20" stroke="#000" stroke-width="1.45"/>
<line x1="156.70" y1="349.20" x2="161.70" y2="349.20" stroke="#000" stroke-width="1.3"/>
<text x="0" y="0" transform="translate(154.90,353.20) scale(1,1.06)" font-size="10.3" text-anchor="end" font-weight="bold" font-family='"Liberation Serif", serif' fill="#000" stroke="#000" stroke-width="0.25" >0.0</text>
<line x1="156.70" y1="323.20" x2="161.70" y2="323.20" stroke="#000" stroke-width="1.3"/>
<text x="0" y="0" transform="translate(154.90,327.20) scale(1,1.06)" font-size="10.3" text-anchor="end" font-weight="bold" font-family='"Liberation Serif", serif' fill="#000" stroke="#000" stroke-width="0.25" >0.5</text>
<line x1="156.70" y1="297.20" x2="161.70" y2="297.20" stroke="#000" stroke-width="1.3"/>
<text x="0" y="0" transform="translate(154.90,301.20) scale(1,1.06)" font-size="10.3" text-anchor="end" font-weight="bold" font-family='"Liberation Serif", serif' fill="#000" stroke="#000" stroke-width="0.25" >1.0</text>
<line x1="156.70" y1="271.20" x2="161.70" y2="271.20" stroke="#000" stroke-width="1.3"/>
<text x="0" y="0" transform="translate(154.90,275.20) scale(1,1.06)" font-size="10.3" text-anchor="end" font-weight="bold" font-family='"Liberation Serif", serif' fill="#000" stroke="#000" stroke-width="0.25" >1.5</text>
<line x1="159.10" y1="336.20" x2="161.70" y2="336.20" stroke="#000" stroke-width="1.2"/>
<line x1="159.10" y1="310.20" x2="161.70" y2="310.20" stroke="#000" stroke-width="1.2"/>
<line x1="159.10" y1="284.20" x2="161.70" y2="284.20" stroke="#000" stroke-width="1.2"/>
<line x1="172.30" y1="349.20" x2="172.30" y2="355.20" stroke="#000" stroke-width="1.25"/>
<line x1="188.80" y1="349.20" x2="188.80" y2="355.20" stroke="#000" stroke-width="1.25"/>
<line x1="205.60" y1="349.20" x2="205.60" y2="355.20" stroke="#000" stroke-width="1.25"/>
<line x1="222.90" y1="349.20" x2="222.90" y2="355.20" stroke="#000" stroke-width="1.25"/>
<line x1="240.10" y1="349.20" x2="240.10" y2="355.20" stroke="#000" stroke-width="1.25"/>
<rect x="166.35" y="297.20" width="11.90" height="52.00" fill="#fff" stroke="#000" stroke-width="1.25"/>
<line x1="188.80" y1="309.16" x2="188.80" y2="302.71" stroke="#333" stroke-width="1.2"/>
<line x1="186.30" y1="302.71" x2="191.30" y2="302.71" stroke="#333" stroke-width="1.2"/>
<rect x="182.85" y="309.16" width="11.90" height="40.04" fill="#fff" stroke="#000" stroke-width="1.25"/>
<line x1="205.60" y1="302.19" x2="205.60" y2="298.29" stroke="#333" stroke-width="1.2"/>
<line x1="203.10" y1="298.29" x2="208.10" y2="298.29" stroke="#333" stroke-width="1.2"/>
<rect x="199.65" y="302.19" width="11.90" height="47.01" fill="#fff" stroke="#000" stroke-width="1.25"/>
<line x1="222.90" y1="318.42" x2="222.90" y2="313.68" stroke="#333" stroke-width="1.2"/>
<line x1="220.40" y1="313.68" x2="225.40" y2="313.68" stroke="#333" stroke-width="1.2"/>
<rect x="216.95" y="318.42" width="11.90" height="30.78" fill="#fff" stroke="#000" stroke-width="1.25"/>
<line x1="240.10" y1="311.40" x2="240.10" y2="308.64" stroke="#333" stroke-width="1.2"/>
<line x1="237.60" y1="308.64" x2="242.60" y2="308.64" stroke="#333" stroke-width="1.2"/>
<rect x="234.15" y="311.40" width="11.90" height="37.80" fill="#fff" stroke="#000" stroke-width="1.25"/>
<line x1="172.30" y1="281.70" x2="188.70" y2="281.70" stroke="#000" stroke-width="1.3"/>
<use href="#star" transform="translate(173.30,272.80) scale(1.000)"/>
<use href="#star" transform="translate(181.00,272.80) scale(1.000)"/>
<use href="#star" transform="translate(188.70,272.80) scale(1.000)"/>
<line x1="206.20" y1="282.50" x2="240.10" y2="282.50" stroke="#000" stroke-width="1.3"/>
<use href="#star" transform="translate(219.05,273.60) scale(1.000)"/>
<use href="#star" transform="translate(226.75,273.60) scale(1.000)"/>
<line x1="189.20" y1="262.40" x2="205.40" y2="262.40" stroke="#000" stroke-width="1.3"/>
<use href="#star" transform="translate(197.70,253.50) scale(1.000)"/>
<line x1="189.20" y1="243.10" x2="222.90" y2="243.10" stroke="#000" stroke-width="1.3"/>
<use href="#star" transform="translate(202.35,234.20) scale(1.000)"/>
<use href="#star" transform="translate(210.05,234.20) scale(1.000)"/>
<text x="0" y="0" transform="translate(138.70,302.90) rotate(-90)" font-size="10.65" text-anchor="middle" font-weight="bold" font-family='"Liberation Serif", serif' fill="#000" stroke="#000" stroke-width="0.25" >Ratio of Glu</text>
<text x="0" y="0" transform="translate(175.80,366.70) scale(1,1.01) rotate(-45)" font-size="10.8" text-anchor="end" font-weight="bold" font-family='"Liberation Serif", serif' fill="#000" stroke="#000" stroke-width="0.25" >control</text>
<text x="0" y="0" transform="translate(192.30,366.70) scale(1,1.01) rotate(-45)" font-size="10.8" text-anchor="end" font-weight="bold" font-family='"Liberation Serif", serif' fill="#000" stroke="#000" stroke-width="0.25" >LPS</text>
<text x="0" y="0" transform="translate(209.10,366.70) scale(1,1.01) rotate(-45)" font-size="10.8" text-anchor="end" font-weight="bold" font-family='"Liberation Serif", serif' fill="#000" stroke="#000" stroke-width="0.25" >LPS+XAV939</text>
<text x="0" y="0" transform="translate(226.40,366.70) scale(1,1.01) rotate(-45)" font-size="10.8" text-anchor="end" font-weight="bold" font-family='"Liberation Serif", serif' fill="#000" stroke="#000" stroke-width="0.25" >LPS+LiCl</text>
<text x="0" y="0" transform="translate(243.60,366.70) scale(1,1.01) rotate(-45)" font-size="10.8" text-anchor="end" font-weight="bold" font-family='"Liberation Serif", serif' fill="#000" stroke="#000" stroke-width="0.25" >LPS+XAV939+FBP</text>
<line x1="332.50" y1="269.00" x2="332.50" y2="349.30" stroke="#000" stroke-width="1.45"/>
<line x1="331.80" y1="348.60" x2="422.70" y2="348.60" stroke="#000" stroke-width="1.45"/>
<line x1="327.50" y1="348.60" x2="332.50" y2="348.60" stroke="#000" stroke-width="1.3"/>
<text x="0" y="0" transform="translate(325.70,352.60) scale(1,1.06)" font-size="10.3" text-anchor="end" font-weight="bold" font-family='"Liberation Serif", serif' fill="#000" stroke="#000" stroke-width="0.25" >0.0</text>
<line x1="327.50" y1="332.82" x2="332.50" y2="332.82" stroke="#000" stroke-width="1.3"/>
<text x="0" y="0" transform="translate(325.70,336.82) scale(1,1.06)" font-size="10.3" text-anchor="end" font-weight="bold" font-family='"Liberation Serif", serif' fill="#000" stroke="#000" stroke-width="0.25" >0.5</text>
<line x1="327.50" y1="317.04" x2="332.50" y2="317.04" stroke="#000" stroke-width="1.3"/>
<text x="0" y="0" transform="translate(325.70,321.04) scale(1,1.06)" font-size="10.3" text-anchor="end" font-weight="bold" font-family='"Liberation Serif", serif' fill="#000" stroke="#000" stroke-width="0.25" >1.0</text>
<line x1="327.50" y1="301.26" x2="332.50" y2="301.26" stroke="#000" stroke-width="1.3"/>
<text x="0" y="0" transform="translate(325.70,305.26) scale(1,1.06)" font-size="10.3" text-anchor="end" font-weight="bold" font-family='"Liberation Serif", serif' fill="#000" stroke="#000" stroke-width="0.25" >1.5</text>
<line x1="327.50" y1="285.48" x2="332.50" y2="285.48" stroke="#000" stroke-width="1.3"/>
<text x="0" y="0" transform="translate(325.70,289.48) scale(1,1.06)" font-size="10.3" text-anchor="end" font-weight="bold" font-family='"Liberation Serif", serif' fill="#000" stroke="#000" stroke-width="0.25" >2.0</text>
<line x1="327.50" y1="269.70" x2="332.50" y2="269.70" stroke="#000" stroke-width="1.3"/>
<text x="0" y="0" transform="translate(325.70,273.70) scale(1,1.06)" font-size="10.3" text-anchor="end" font-weight="bold" font-family='"Liberation Serif", serif' fill="#000" stroke="#000" stroke-width="0.25" >2.5</text>
<line x1="343.60" y1="348.60" x2="343.60" y2="354.60" stroke="#000" stroke-width="1.25"/>
<line x1="360.20" y1="348.60" x2="360.20" y2="354.60" stroke="#000" stroke-width="1.25"/>
<line x1="377.10" y1="348.60" x2="377.10" y2="354.60" stroke="#000" stroke-width="1.25"/>
<line x1="394.20" y1="348.60" x2="394.20" y2="354.60" stroke="#000" stroke-width="1.25"/>
<line x1="411.60" y1="348.60" x2="411.60" y2="354.60" stroke="#000" stroke-width="1.25"/>
<rect x="337.65" y="317.04" width="11.90" height="31.56" fill="#fff" stroke="#000" stroke-width="1.25"/>
<line x1="360.20" y1="300.31" x2="360.20" y2="296.40" stroke="#333" stroke-width="1.2"/>
<line x1="357.70" y1="296.40" x2="362.70" y2="296.40" stroke="#333" stroke-width="1.2"/>
<rect x="354.25" y="300.31" width="11.90" height="48.29" fill="#fff" stroke="#000" stroke-width="1.25"/>
<line x1="377.10" y1="310.19" x2="377.10" y2="307.57" stroke="#333" stroke-width="1.2"/>
<line x1="374.60" y1="307.57" x2="379.60" y2="307.57" stroke="#333" stroke-width="1.2"/>
<rect x="371.15" y="310.19" width="11.90" height="38.41" fill="#fff" stroke="#000" stroke-width="1.25"/>
<line x1="394.20" y1="285.16" x2="394.20" y2="280.59" stroke="#333" stroke-width="1.2"/>
<line x1="391.70" y1="280.59" x2="396.70" y2="280.59" stroke="#333" stroke-width="1.2"/>
<rect x="388.25" y="285.16" width="11.90" height="63.44" fill="#fff" stroke="#000" stroke-width="1.25"/>
<line x1="411.60" y1="298.20" x2="411.60" y2="295.39" stroke="#333" stroke-width="1.2"/>
<line x1="409.10" y1="295.39" x2="414.10" y2="295.39" stroke="#333" stroke-width="1.2"/>
<rect x="405.65" y="298.20" width="11.90" height="50.40" fill="#fff" stroke="#000" stroke-width="1.25"/>
<line x1="343.60" y1="274.80" x2="360.20" y2="274.80" stroke="#000" stroke-width="1.3"/>
<use href="#star" transform="translate(344.40,265.90) scale(1.000)"/>
<use href="#star" transform="translate(352.10,265.90) scale(1.000)"/>
<use href="#star" transform="translate(359.80,265.90) scale(1.000)"/>
<line x1="360.70" y1="289.40" x2="377.10" y2="289.40" stroke="#000" stroke-width="1.3"/>
<use href="#star" transform="translate(364.95,280.50) scale(1.000)"/>
<use href="#star" transform="translate(372.65,280.50) scale(1.000)"/>
<line x1="377.60" y1="273.20" x2="411.60" y2="273.20" stroke="#000" stroke-width="1.3"/>
<use href="#star" transform="translate(390.65,264.30) scale(1.000)"/>
<use href="#star" transform="translate(398.35,264.30) scale(1.000)"/>
<line x1="360.20" y1="254.20" x2="394.20" y2="254.20" stroke="#000" stroke-width="1.3"/>
<use href="#star" transform="translate(369.90,245.30) scale(1.000)"/>
<use href="#star" transform="translate(377.60,245.30) scale(1.000)"/>
<use href="#star" transform="translate(385.30,245.30) scale(1.000)"/>
<text x="0" y="0" transform="translate(306.40,308.50) rotate(-90)" font-size="11.0" text-anchor="middle" font-weight="bold" font-family='"Liberation Serif", serif' fill="#000" stroke="#000" stroke-width="0.25" >Ratio of PFK activity</text>
<text x="0" y="0" transform="translate(347.10,366.10) scale(1,1.01) rotate(-45)" font-size="10.8" text-anchor="end" font-weight="bold" font-family='"Liberation Serif", serif' fill="#000" stroke="#000" stroke-width="0.25" >control</text>
<text x="0" y="0" transform="translate(363.70,366.10) scale(1,1.01) rotate(-45)" font-size="10.8" text-anchor="end" font-weight="bold" font-family='"Liberation Serif", serif' fill="#000" stroke="#000" stroke-width="0.25" >LPS</text>
<text x="0" y="0" transform="translate(380.60,366.10) scale(1,1.01) rotate(-45)" font-size="10.8" text-anchor="end" font-weight="bold" font-family='"Liberation Serif", serif' fill="#000" stroke="#000" stroke-width="0.25" >LPS+XAV939</text>
<text x="0" y="0" transform="translate(397.70,366.10) scale(1,1.01) rotate(-45)" font-size="10.8" text-anchor="end" font-weight="bold" font-family='"Liberation Serif", serif' fill="#000" stroke="#000" stroke-width="0.25" >LPS+LiCl</text>
<text x="0" y="0" transform="translate(415.10,366.10) scale(1,1.01) rotate(-45)" font-size="10.8" text-anchor="end" font-weight="bold" font-family='"Liberation Serif", serif' fill="#000" stroke="#000" stroke-width="0.25" >LPS+XAV939+FBP</text>
<line x1="502.00" y1="259.15" x2="502.00" y2="343.80" stroke="#000" stroke-width="1.45"/>
<line x1="501.30" y1="343.10" x2="591.50" y2="343.10" stroke="#000" stroke-width="1.45"/>
<line x1="497.00" y1="343.10" x2="502.00" y2="343.10" stroke="#000" stroke-width="1.3"/>
<text x="0" y="0" transform="translate(495.20,347.10) scale(1,1.06)" font-size="10.3" text-anchor="end" font-weight="bold" font-family='"Liberation Serif", serif' fill="#000" stroke="#000" stroke-width="0.25" >0.0</text>
<line x1="497.00" y1="326.45" x2="502.00" y2="326.45" stroke="#000" stroke-width="1.3"/>
<text x="0" y="0" transform="translate(495.20,330.45) scale(1,1.06)" font-size="10.3" text-anchor="end" font-weight="bold" font-family='"Liberation Serif", serif' fill="#000" stroke="#000" stroke-width="0.25" >0.5</text>
<line x1="497.00" y1="309.80" x2="502.00" y2="309.80" stroke="#000" stroke-width="1.3"/>
<text x="0" y="0" transform="translate(495.20,313.80) scale(1,1.06)" font-size="10.3" text-anchor="end" font-weight="bold" font-family='"Liberation Serif", serif' fill="#000" stroke="#000" stroke-width="0.25" >1.0</text>
<line x1="497.00" y1="293.15" x2="502.00" y2="293.15" stroke="#000" stroke-width="1.3"/>
<text x="0" y="0" transform="translate(495.20,297.15) scale(1,1.06)" font-size="10.3" text-anchor="end" font-weight="bold" font-family='"Liberation Serif", serif' fill="#000" stroke="#000" stroke-width="0.25" >1.5</text>
<line x1="497.00" y1="276.50" x2="502.00" y2="276.50" stroke="#000" stroke-width="1.3"/>
<text x="0" y="0" transform="translate(495.20,280.50) scale(1,1.06)" font-size="10.3" text-anchor="end" font-weight="bold" font-family='"Liberation Serif", serif' fill="#000" stroke="#000" stroke-width="0.25" >2.0</text>
<line x1="497.00" y1="259.85" x2="502.00" y2="259.85" stroke="#000" stroke-width="1.3"/>
<text x="0" y="0" transform="translate(495.20,263.85) scale(1,1.06)" font-size="10.3" text-anchor="end" font-weight="bold" font-family='"Liberation Serif", serif' fill="#000" stroke="#000" stroke-width="0.25" >2.5</text>
<line x1="512.20" y1="343.10" x2="512.20" y2="349.10" stroke="#000" stroke-width="1.25"/>
<line x1="529.80" y1="343.10" x2="529.80" y2="349.10" stroke="#000" stroke-width="1.25"/>
<line x1="546.90" y1="343.10" x2="546.90" y2="349.10" stroke="#000" stroke-width="1.25"/>
<line x1="564.00" y1="343.10" x2="564.00" y2="349.10" stroke="#000" stroke-width="1.25"/>
<line x1="581.10" y1="343.10" x2="581.10" y2="349.10" stroke="#000" stroke-width="1.25"/>
<rect x="506.25" y="309.80" width="11.90" height="33.30" fill="#fff" stroke="#000" stroke-width="1.25"/>
<line x1="529.80" y1="294.48" x2="529.80" y2="291.82" stroke="#333" stroke-width="1.2"/>
<line x1="527.30" y1="291.82" x2="532.30" y2="291.82" stroke="#333" stroke-width="1.2"/>
<rect x="523.85" y="294.48" width="11.90" height="48.62" fill="#fff" stroke="#000" stroke-width="1.25"/>
<line x1="546.90" y1="303.31" x2="546.90" y2="301.48" stroke="#333" stroke-width="1.2"/>
<line x1="544.40" y1="301.48" x2="549.40" y2="301.48" stroke="#333" stroke-width="1.2"/>
<rect x="540.95" y="303.31" width="11.90" height="39.79" fill="#fff" stroke="#000" stroke-width="1.25"/>
<line x1="564.00" y1="277.40" x2="564.00" y2="273.84" stroke="#333" stroke-width="1.2"/>
<line x1="561.50" y1="273.84" x2="566.50" y2="273.84" stroke="#333" stroke-width="1.2"/>
<rect x="558.05" y="277.40" width="11.90" height="65.70" fill="#fff" stroke="#000" stroke-width="1.25"/>
<line x1="581.10" y1="288.29" x2="581.10" y2="282.83" stroke="#333" stroke-width="1.2"/>
<line x1="578.60" y1="282.83" x2="583.60" y2="282.83" stroke="#333" stroke-width="1.2"/>
<rect x="575.15" y="288.29" width="11.90" height="54.81" fill="#fff" stroke="#000" stroke-width="1.25"/>
<line x1="512.90" y1="256.30" x2="527.20" y2="256.30" stroke="#000" stroke-width="1.3"/>
<use href="#star" transform="translate(512.10,247.40) scale(1.000)"/>
<use href="#star" transform="translate(519.80,247.40) scale(1.000)"/>
<use href="#star" transform="translate(527.50,247.40) scale(1.000)"/>
<line x1="532.50" y1="281.30" x2="544.60" y2="281.30" stroke="#000" stroke-width="1.3"/>
<use href="#star" transform="translate(538.30,272.40) scale(1.000)"/>
<line x1="549.90" y1="256.30" x2="581.10" y2="256.30" stroke="#000" stroke-width="1.3"/>
<use href="#star" transform="translate(557.90,247.40) scale(1.000)"/>
<use href="#star" transform="translate(565.60,247.40) scale(1.000)"/>
<use href="#star" transform="translate(573.30,247.40) scale(1.000)"/>
<line x1="530.20" y1="226.50" x2="563.80" y2="226.50" stroke="#000" stroke-width="1.3"/>
<use href="#star" transform="translate(539.30,217.60) scale(1.000)"/>
<use href="#star" transform="translate(547.00,217.60) scale(1.000)"/>
<use href="#star" transform="translate(554.70,217.60) scale(1.000)"/>
<text x="0" y="0" transform="translate(476.40,300.75) rotate(-90)" font-size="11.45" text-anchor="middle" font-weight="bold" font-family='"Liberation Serif", serif' fill="#000" stroke="#000" stroke-width="0.25" >Ratio of LDH activity</text>
<text x="0" y="0" transform="translate(515.70,360.60) scale(1,1.04) rotate(-45)" font-size="11.1" text-anchor="end" font-weight="bold" font-family='"Liberation Serif", serif' fill="#000" stroke="#000" stroke-width="0.25" >control</text>
<text x="0" y="0" transform="translate(533.30,360.60) scale(1,1.04) rotate(-45)" font-size="11.1" text-anchor="end" font-weight="bold" font-family='"Liberation Serif", serif' fill="#000" stroke="#000" stroke-width="0.25" >LPS</text>
<text x="0" y="0" transform="translate(550.40,360.60) scale(1,1.04) rotate(-45)" font-size="11.1" text-anchor="end" font-weight="bold" font-family='"Liberation Serif", serif' fill="#000" stroke="#000" stroke-width="0.25" >LPS+XAV939</text>
<text x="0" y="0" transform="translate(567.50,360.60) scale(1,1.04) rotate(-45)" font-size="11.1" text-anchor="end" font-weight="bold" font-family='"Liberation Serif", serif' fill="#000" stroke="#000" stroke-width="0.25" >LPS+LiCl</text>
<text x="0" y="0" transform="translate(584.60,360.60) scale(1,1.04) rotate(-45)" font-size="11.1" text-anchor="end" font-weight="bold" font-family='"Liberation Serif", serif' fill="#000" stroke="#000" stroke-width="0.25" >LPS+XAV939+FBP</text>
<line x1="663.70" y1="250.20" x2="663.70" y2="339.60" stroke="#000" stroke-width="1.45"/>
<line x1="663.00" y1="338.90" x2="753.00" y2="338.90" stroke="#000" stroke-width="1.45"/>
<line x1="658.70" y1="338.90" x2="663.70" y2="338.90" stroke="#000" stroke-width="1.3"/>
<text x="0" y="0" transform="translate(656.90,342.90) scale(1,1.06)" font-size="10.3" text-anchor="end" font-weight="bold" font-family='"Liberation Serif", serif' fill="#000" stroke="#000" stroke-width="0.25" >0.0</text>
<line x1="658.70" y1="316.90" x2="663.70" y2="316.90" stroke="#000" stroke-width="1.3"/>
<text x="0" y="0" transform="translate(656.90,320.90) scale(1,1.06)" font-size="10.3" text-anchor="end" font-weight="bold" font-family='"Liberation Serif", serif' fill="#000" stroke="#000" stroke-width="0.25" >0.5</text>
<line x1="658.70" y1="294.90" x2="663.70" y2="294.90" stroke="#000" stroke-width="1.3"/>
<text x="0" y="0" transform="translate(656.90,298.90) scale(1,1.06)" font-size="10.3" text-anchor="end" font-weight="bold" font-family='"Liberation Serif", serif' fill="#000" stroke="#000" stroke-width="0.25" >1.0</text>
<line x1="658.70" y1="272.90" x2="663.70" y2="272.90" stroke="#000" stroke-width="1.3"/>
<text x="0" y="0" transform="translate(656.90,276.90) scale(1,1.06)" font-size="10.3" text-anchor="end" font-weight="bold" font-family='"Liberation Serif", serif' fill="#000" stroke="#000" stroke-width="0.25" >1.5</text>
<line x1="658.70" y1="250.90" x2="663.70" y2="250.90" stroke="#000" stroke-width="1.3"/>
<text x="0" y="0" transform="translate(656.90,254.90) scale(1,1.06)" font-size="10.3" text-anchor="end" font-weight="bold" font-family='"Liberation Serif", serif' fill="#000" stroke="#000" stroke-width="0.25" >2.0</text>
<line x1="674.30" y1="338.90" x2="674.30" y2="344.90" stroke="#000" stroke-width="1.25"/>
<line x1="691.30" y1="338.90" x2="691.30" y2="344.90" stroke="#000" stroke-width="1.25"/>
<line x1="708.00" y1="338.90" x2="708.00" y2="344.90" stroke="#000" stroke-width="1.25"/>
<line x1="725.20" y1="338.90" x2="725.20" y2="344.90" stroke="#000" stroke-width="1.25"/>
<line x1="742.70" y1="338.90" x2="742.70" y2="344.90" stroke="#000" stroke-width="1.25"/>
<rect x="668.35" y="294.90" width="11.90" height="44.00" fill="#fff" stroke="#000" stroke-width="1.25"/>
<line x1="691.30" y1="276.60" x2="691.30" y2="271.58" stroke="#333" stroke-width="1.2"/>
<line x1="688.80" y1="271.58" x2="693.80" y2="271.58" stroke="#333" stroke-width="1.2"/>
<rect x="685.35" y="276.60" width="11.90" height="62.30" fill="#fff" stroke="#000" stroke-width="1.25"/>
<line x1="708.00" y1="289.88" x2="708.00" y2="287.51" stroke="#333" stroke-width="1.2"/>
<line x1="705.50" y1="287.51" x2="710.50" y2="287.51" stroke="#333" stroke-width="1.2"/>
<rect x="702.05" y="289.88" width="11.90" height="49.02" fill="#fff" stroke="#000" stroke-width="1.25"/>
<line x1="725.20" y1="262.12" x2="725.20" y2="256.80" stroke="#333" stroke-width="1.2"/>
<line x1="722.70" y1="256.80" x2="727.70" y2="256.80" stroke="#333" stroke-width="1.2"/>
<rect x="719.25" y="262.12" width="11.90" height="76.78" fill="#fff" stroke="#000" stroke-width="1.25"/>
<line x1="742.70" y1="274.79" x2="742.70" y2="267.40" stroke="#333" stroke-width="1.2"/>
<line x1="740.20" y1="267.40" x2="745.20" y2="267.40" stroke="#333" stroke-width="1.2"/>
<rect x="736.75" y="274.79" width="11.90" height="64.11" fill="#fff" stroke="#000" stroke-width="1.25"/>
<line x1="674.80" y1="262.10" x2="691.30" y2="262.10" stroke="#000" stroke-width="1.3"/>
<use href="#star" transform="translate(678.95,253.20) scale(1.000)"/>
<use href="#star" transform="translate(686.65,253.20) scale(1.000)"/>
<line x1="692.10" y1="240.90" x2="708.00" y2="240.90" stroke="#000" stroke-width="1.3"/>
<use href="#star" transform="translate(700.00,232.00) scale(1.000)"/>
<line x1="708.80" y1="250.90" x2="742.40" y2="250.90" stroke="#000" stroke-width="1.3"/>
<use href="#star" transform="translate(725.70,242.00) scale(1.000)"/>
<line x1="692.10" y1="219.70" x2="725.70" y2="219.70" stroke="#000" stroke-width="1.3"/>
<use href="#star" transform="translate(708.80,210.80) scale(1.000)"/>
<text x="0" y="0" transform="translate(637.80,294.40) rotate(-90)" font-size="12.0" text-anchor="middle" font-weight="bold" font-family='"Liberation Serif", serif' fill="#000" stroke="#000" stroke-width="0.25" >Ratio of LA</text>
<text x="0" y="0" transform="translate(677.80,356.40) scale(1,1.01) rotate(-45)" font-size="10.8" text-anchor="end" font-weight="bold" font-family='"Liberation Serif", serif' fill="#000" stroke="#000" stroke-width="0.25" >control</text>
<text x="0" y="0" transform="translate(694.80,356.40) scale(1,1.01) rotate(-45)" font-size="10.8" text-anchor="end" font-weight="bold" font-family='"Liberation Serif", serif' fill="#000" stroke="#000" stroke-width="0.25" >LPS</text>
<text x="0" y="0" transform="translate(711.50,356.40) scale(1,1.01) rotate(-45)" font-size="10.8" text-anchor="end" font-weight="bold" font-family='"Liberation Serif", serif' fill="#000" stroke="#000" stroke-width="0.25" >LPS+XAV939</text>
<text x="0" y="0" transform="translate(728.70,356.40) scale(1,1.01) rotate(-45)" font-size="10.8" text-anchor="end" font-weight="bold" font-family='"Liberation Serif", serif' fill="#000" stroke="#000" stroke-width="0.25" >LPS+LiCl</text>
<text x="0" y="0" transform="translate(746.20,356.40) scale(1,1.01) rotate(-45)" font-size="10.8" text-anchor="end" font-weight="bold" font-family='"Liberation Serif", serif' fill="#000" stroke="#000" stroke-width="0.25" >LPS+XAV939+FBP</text>
<line x1="168.10" y1="705.00" x2="168.10" y2="784.60" stroke="#000" stroke-width="1.45"/>
<line x1="167.40" y1="783.90" x2="257.10" y2="783.90" stroke="#000" stroke-width="1.45"/>
<line x1="163.10" y1="783.90" x2="168.10" y2="783.90" stroke="#000" stroke-width="1.3"/>
<text x="0" y="0" transform="translate(161.30,787.90) scale(1,1.06)" font-size="10.3" text-anchor="end" font-weight="bold" font-family='"Liberation Serif", serif' fill="#000" stroke="#000" stroke-width="0.25" >0</text>
<line x1="163.10" y1="764.35" x2="168.10" y2="764.35" stroke="#000" stroke-width="1.3"/>
<text x="0" y="0" transform="translate(161.30,768.35) scale(1,1.06)" font-size="10.3" text-anchor="end" font-weight="bold" font-family='"Liberation Serif", serif' fill="#000" stroke="#000" stroke-width="0.25" >20</text>
<line x1="163.10" y1="744.80" x2="168.10" y2="744.80" stroke="#000" stroke-width="1.3"/>
<text x="0" y="0" transform="translate(161.30,748.80) scale(1,1.06)" font-size="10.3" text-anchor="end" font-weight="bold" font-family='"Liberation Serif", serif' fill="#000" stroke="#000" stroke-width="0.25" >40</text>
<line x1="163.10" y1="725.25" x2="168.10" y2="725.25" stroke="#000" stroke-width="1.3"/>
<text x="0" y="0" transform="translate(161.30,729.25) scale(1,1.06)" font-size="10.3" text-anchor="end" font-weight="bold" font-family='"Liberation Serif", serif' fill="#000" stroke="#000" stroke-width="0.25" >60</text>
<line x1="163.10" y1="705.70" x2="168.10" y2="705.70" stroke="#000" stroke-width="1.3"/>
<text x="0" y="0" transform="translate(161.30,709.70) scale(1,1.06)" font-size="10.3" text-anchor="end" font-weight="bold" font-family='"Liberation Serif", serif' fill="#000" stroke="#000" stroke-width="0.25" >80</text>
<line x1="180.40" y1="783.90" x2="180.40" y2="789.90" stroke="#000" stroke-width="1.25"/>
<line x1="196.20" y1="783.90" x2="196.20" y2="789.90" stroke="#000" stroke-width="1.25"/>
<line x1="211.90" y1="783.90" x2="211.90" y2="789.90" stroke="#000" stroke-width="1.25"/>
<line x1="227.70" y1="783.90" x2="227.70" y2="789.90" stroke="#000" stroke-width="1.25"/>
<line x1="243.50" y1="783.90" x2="243.50" y2="789.90" stroke="#000" stroke-width="1.25"/>
<line x1="180.40" y1="761.61" x2="180.40" y2="759.46" stroke="#333" stroke-width="1.2"/>
<line x1="177.90" y1="759.46" x2="182.90" y2="759.46" stroke="#333" stroke-width="1.2"/>
<rect x="174.45" y="761.61" width="11.90" height="22.29" fill="#fff" stroke="#000" stroke-width="1.25"/>
<line x1="196.20" y1="735.12" x2="196.20" y2="727.50" stroke="#333" stroke-width="1.2"/>
<line x1="193.70" y1="727.50" x2="198.70" y2="727.50" stroke="#333" stroke-width="1.2"/>
<rect x="190.25" y="735.12" width="11.90" height="48.78" fill="#fff" stroke="#000" stroke-width="1.25"/>
<line x1="211.90" y1="750.27" x2="211.90" y2="745.09" stroke="#333" stroke-width="1.2"/>
<line x1="209.40" y1="745.09" x2="214.40" y2="745.09" stroke="#333" stroke-width="1.2"/>
<rect x="205.95" y="750.27" width="11.90" height="33.63" fill="#fff" stroke="#000" stroke-width="1.25"/>
<line x1="227.70" y1="719.29" x2="227.70" y2="715.57" stroke="#333" stroke-width="1.2"/>
<line x1="225.20" y1="715.57" x2="230.20" y2="715.57" stroke="#333" stroke-width="1.2"/>
<rect x="221.75" y="719.29" width="11.90" height="64.61" fill="#fff" stroke="#000" stroke-width="1.25"/>
<line x1="243.50" y1="736.39" x2="243.50" y2="733.46" stroke="#333" stroke-width="1.2"/>
<line x1="241.00" y1="733.46" x2="246.00" y2="733.46" stroke="#333" stroke-width="1.2"/>
<rect x="237.55" y="736.39" width="11.90" height="47.51" fill="#fff" stroke="#000" stroke-width="1.25"/>
<line x1="180.40" y1="702.30" x2="196.20" y2="702.30" stroke="#000" stroke-width="1.3"/>
<use href="#star" transform="translate(180.60,693.40) scale(1.000)"/>
<use href="#star" transform="translate(188.30,693.40) scale(1.000)"/>
<use href="#star" transform="translate(196.00,693.40) scale(1.000)"/>
<line x1="196.20" y1="718.30" x2="211.90" y2="718.30" stroke="#000" stroke-width="1.3"/>
<use href="#star" transform="translate(200.25,709.40) scale(1.000)"/>
<use href="#star" transform="translate(207.95,709.40) scale(1.000)"/>
<line x1="212.50" y1="703.00" x2="243.50" y2="703.00" stroke="#000" stroke-width="1.3"/>
<use href="#star" transform="translate(227.70,694.10) scale(1.000)"/>
<line x1="196.20" y1="675.50" x2="227.70" y2="675.50" stroke="#000" stroke-width="1.3"/>
<use href="#star" transform="translate(208.05,666.60) scale(1.000)"/>
<use href="#star" transform="translate(215.75,666.60) scale(1.000)"/>
<text x="0" y="0" transform="translate(144.50,745.10) rotate(-90)" font-size="10.85" text-anchor="middle" font-weight="bold" font-family='"Liberation Serif", serif' fill="#000" stroke="#000" stroke-width="0.25" >TNF-<tspan font-style="italic">α</tspan> in supernatant(ng/ml)</text>
<text x="0" y="0" transform="translate(183.90,801.40) scale(1,1.01) rotate(-45)" font-size="10.8" text-anchor="end" font-weight="bold" font-family='"Liberation Serif", serif' fill="#000" stroke="#000" stroke-width="0.25" >control</text>
<text x="0" y="0" transform="translate(199.70,801.40) scale(1,1.01) rotate(-45)" font-size="10.8" text-anchor="end" font-weight="bold" font-family='"Liberation Serif", serif' fill="#000" stroke="#000" stroke-width="0.25" >LPS</text>
<text x="0" y="0" transform="translate(215.40,801.40) scale(1,1.01) rotate(-45)" font-size="10.8" text-anchor="end" font-weight="bold" font-family='"Liberation Serif", serif' fill="#000" stroke="#000" stroke-width="0.25" >LPS+XAV939</text>
<text x="0" y="0" transform="translate(231.20,801.40) scale(1,1.01) rotate(-45)" font-size="10.8" text-anchor="end" font-weight="bold" font-family='"Liberation Serif", serif' fill="#000" stroke="#000" stroke-width="0.25" >LPS+LiCl</text>
<text x="0" y="0" transform="translate(247.00,801.40) scale(1,1.01) rotate(-45)" font-size="10.8" text-anchor="end" font-weight="bold" font-family='"Liberation Serif", serif' fill="#000" stroke="#000" stroke-width="0.25" >LPS+XAV939+FBP</text>
<line x1="339.10" y1="708.89" x2="339.10" y2="787.00" stroke="#000" stroke-width="1.45"/>
<line x1="338.40" y1="786.30" x2="429.20" y2="786.30" stroke="#000" stroke-width="1.45"/>
<line x1="334.10" y1="786.30" x2="339.10" y2="786.30" stroke="#000" stroke-width="1.3"/>
<text x="0" y="0" transform="translate(332.30,790.30) scale(1,1.06)" font-size="10.3" text-anchor="end" font-weight="bold" font-family='"Liberation Serif", serif' fill="#000" stroke="#000" stroke-width="0.25" >0</text>
<line x1="334.10" y1="760.73" x2="339.10" y2="760.73" stroke="#000" stroke-width="1.3"/>
<text x="0" y="0" transform="translate(332.30,764.73) scale(1,1.06)" font-size="10.3" text-anchor="end" font-weight="bold" font-family='"Liberation Serif", serif' fill="#000" stroke="#000" stroke-width="0.25" >5</text>
<line x1="334.10" y1="735.16" x2="339.10" y2="735.16" stroke="#000" stroke-width="1.3"/>
<text x="0" y="0" transform="translate(332.30,739.16) scale(1,1.06)" font-size="10.3" text-anchor="end" font-weight="bold" font-family='"Liberation Serif", serif' fill="#000" stroke="#000" stroke-width="0.25" >10</text>
<line x1="334.10" y1="709.59" x2="339.10" y2="709.59" stroke="#000" stroke-width="1.3"/>
<text x="0" y="0" transform="translate(332.30,713.59) scale(1,1.06)" font-size="10.3" text-anchor="end" font-weight="bold" font-family='"Liberation Serif", serif' fill="#000" stroke="#000" stroke-width="0.25" >15</text>
<line x1="349.60" y1="786.30" x2="349.60" y2="792.30" stroke="#000" stroke-width="1.25"/>
<line x1="366.70" y1="786.30" x2="366.70" y2="792.30" stroke="#000" stroke-width="1.25"/>
<line x1="383.20" y1="786.30" x2="383.20" y2="792.30" stroke="#000" stroke-width="1.25"/>
<line x1="400.30" y1="786.30" x2="400.30" y2="792.30" stroke="#000" stroke-width="1.25"/>
<line x1="417.10" y1="786.30" x2="417.10" y2="792.30" stroke="#000" stroke-width="1.25"/>
<line x1="349.60" y1="783.90" x2="349.60" y2="777.40" stroke="#333" stroke-width="1.2"/>
<line x1="347.10" y1="777.40" x2="352.10" y2="777.40" stroke="#333" stroke-width="1.2"/>
<rect x="343.65" y="783.90" width="11.90" height="2.40" fill="#fff" stroke="#000" stroke-width="1.25"/>
<line x1="366.70" y1="764.21" x2="366.70" y2="758.99" stroke="#333" stroke-width="1.2"/>
<line x1="364.20" y1="758.99" x2="369.20" y2="758.99" stroke="#333" stroke-width="1.2"/>
<rect x="360.75" y="764.21" width="11.90" height="22.09" fill="#fff" stroke="#000" stroke-width="1.25"/>
<line x1="383.20" y1="777.91" x2="383.20" y2="776.58" stroke="#333" stroke-width="1.2"/>
<line x1="380.70" y1="776.58" x2="385.70" y2="776.58" stroke="#333" stroke-width="1.2"/>
<rect x="377.25" y="777.91" width="11.90" height="8.39" fill="#fff" stroke="#000" stroke-width="1.25"/>
<line x1="400.30" y1="732.50" x2="400.30" y2="725.95" stroke="#333" stroke-width="1.2"/>
<line x1="397.80" y1="725.95" x2="402.80" y2="725.95" stroke="#333" stroke-width="1.2"/>
<rect x="394.35" y="732.50" width="11.90" height="53.80" fill="#fff" stroke="#000" stroke-width="1.25"/>
<line x1="417.10" y1="760.32" x2="417.10" y2="754.29" stroke="#333" stroke-width="1.2"/>
<line x1="414.60" y1="754.29" x2="419.60" y2="754.29" stroke="#333" stroke-width="1.2"/>
<rect x="411.15" y="760.32" width="11.90" height="25.98" fill="#fff" stroke="#000" stroke-width="1.25"/>
<line x1="350.40" y1="747.70" x2="366.70" y2="747.70" stroke="#000" stroke-width="1.3"/>
<use href="#star" transform="translate(354.45,738.80) scale(1.000)"/>
<use href="#star" transform="translate(362.15,738.80) scale(1.000)"/>
<line x1="367.20" y1="730.60" x2="383.80" y2="730.60" stroke="#000" stroke-width="1.3"/>
<use href="#star" transform="translate(375.10,721.70) scale(1.000)"/>
<line x1="384.50" y1="722.20" x2="417.40" y2="722.20" stroke="#000" stroke-width="1.3"/>
<use href="#star" transform="translate(400.80,713.30) scale(1.000)"/>
<line x1="367.20" y1="705.10" x2="400.80" y2="705.10" stroke="#000" stroke-width="1.3"/>
<use href="#star" transform="translate(376.80,696.20) scale(1.000)"/>
<use href="#star" transform="translate(384.50,696.20) scale(1.000)"/>
<use href="#star" transform="translate(392.20,696.20) scale(1.000)"/>
<text x="0" y="0" transform="translate(317.60,747.00) rotate(-90)" font-size="10.55" text-anchor="middle" font-weight="bold" font-family='"Liberation Serif", serif' fill="#000" stroke="#000" stroke-width="0.25" >IL-6 in supernatant(ng/ml)</text>
<text x="0" y="0" transform="translate(353.10,803.80) scale(1,1.01) rotate(-45)" font-size="10.8" text-anchor="end" font-weight="bold" font-family='"Liberation Serif", serif' fill="#000" stroke="#000" stroke-width="0.25" >control</text>
<text x="0" y="0" transform="translate(370.20,803.80) scale(1,1.01) rotate(-45)" font-size="10.8" text-anchor="end" font-weight="bold" font-family='"Liberation Serif", serif' fill="#000" stroke="#000" stroke-width="0.25" >LPS</text>
<text x="0" y="0" transform="translate(386.70,803.80) scale(1,1.01) rotate(-45)" font-size="10.8" text-anchor="end" font-weight="bold" font-family='"Liberation Serif", serif' fill="#000" stroke="#000" stroke-width="0.25" >LPS+XAV939</text>
<text x="0" y="0" transform="translate(403.80,803.80) scale(1,1.01) rotate(-45)" font-size="10.8" text-anchor="end" font-weight="bold" font-family='"Liberation Serif", serif' fill="#000" stroke="#000" stroke-width="0.25" >LPS+LiCl</text>
<text x="0" y="0" transform="translate(420.60,803.80) scale(1,1.01) rotate(-45)" font-size="10.8" text-anchor="end" font-weight="bold" font-family='"Liberation Serif", serif' fill="#000" stroke="#000" stroke-width="0.25" >LPS+XAV939+FBP</text>
<line x1="516.20" y1="704.99" x2="516.20" y2="784.60" stroke="#000" stroke-width="1.45"/>
<line x1="515.50" y1="783.90" x2="605.00" y2="783.90" stroke="#000" stroke-width="1.45"/>
<line x1="511.20" y1="783.90" x2="516.20" y2="783.90" stroke="#000" stroke-width="1.3"/>
<text x="0" y="0" transform="translate(509.40,787.90) scale(1,1.06)" font-size="10.3" text-anchor="end" font-weight="bold" font-family='"Liberation Serif", serif' fill="#000" stroke="#000" stroke-width="0.25" >0</text>
<line x1="511.20" y1="757.83" x2="516.20" y2="757.83" stroke="#000" stroke-width="1.3"/>
<text x="0" y="0" transform="translate(509.40,761.83) scale(1,1.06)" font-size="10.3" text-anchor="end" font-weight="bold" font-family='"Liberation Serif", serif' fill="#000" stroke="#000" stroke-width="0.25" >50</text>
<line x1="511.20" y1="731.76" x2="516.20" y2="731.76" stroke="#000" stroke-width="1.3"/>
<text x="0" y="0" transform="translate(509.40,735.76) scale(1,1.06)" font-size="10.3" text-anchor="end" font-weight="bold" font-family='"Liberation Serif", serif' fill="#000" stroke="#000" stroke-width="0.25" >100</text>
<line x1="511.20" y1="705.69" x2="516.20" y2="705.69" stroke="#000" stroke-width="1.3"/>
<text x="0" y="0" transform="translate(509.40,709.69) scale(1,1.06)" font-size="10.3" text-anchor="end" font-weight="bold" font-family='"Liberation Serif", serif' fill="#000" stroke="#000" stroke-width="0.25" >150</text>
<line x1="525.40" y1="783.90" x2="525.40" y2="789.90" stroke="#000" stroke-width="1.25"/>
<line x1="542.40" y1="783.90" x2="542.40" y2="789.90" stroke="#000" stroke-width="1.25"/>
<line x1="559.50" y1="783.90" x2="559.50" y2="789.90" stroke="#000" stroke-width="1.25"/>
<line x1="576.60" y1="783.90" x2="576.60" y2="789.90" stroke="#000" stroke-width="1.25"/>
<line x1="593.70" y1="783.90" x2="593.70" y2="789.90" stroke="#000" stroke-width="1.25"/>
<line x1="525.40" y1="755.01" x2="525.40" y2="750.79" stroke="#333" stroke-width="1.2"/>
<line x1="522.90" y1="750.79" x2="527.90" y2="750.79" stroke="#333" stroke-width="1.2"/>
<rect x="519.45" y="755.01" width="11.90" height="28.89" fill="#fff" stroke="#000" stroke-width="1.25"/>
<line x1="542.40" y1="739.32" x2="542.40" y2="735.41" stroke="#333" stroke-width="1.2"/>
<line x1="539.90" y1="735.41" x2="544.90" y2="735.41" stroke="#333" stroke-width="1.2"/>
<rect x="536.45" y="739.32" width="11.90" height="44.58" fill="#fff" stroke="#000" stroke-width="1.25"/>
<line x1="559.50" y1="751.63" x2="559.50" y2="749.49" stroke="#333" stroke-width="1.2"/>
<line x1="557.00" y1="749.49" x2="562.00" y2="749.49" stroke="#333" stroke-width="1.2"/>
<rect x="553.55" y="751.63" width="11.90" height="32.27" fill="#fff" stroke="#000" stroke-width="1.25"/>
<line x1="576.60" y1="725.40" x2="576.60" y2="722.69" stroke="#333" stroke-width="1.2"/>
<line x1="574.10" y1="722.69" x2="579.10" y2="722.69" stroke="#333" stroke-width="1.2"/>
<rect x="570.65" y="725.40" width="11.90" height="58.50" fill="#fff" stroke="#000" stroke-width="1.25"/>
<line x1="593.70" y1="738.49" x2="593.70" y2="736.71" stroke="#333" stroke-width="1.2"/>
<line x1="591.20" y1="736.71" x2="596.20" y2="736.71" stroke="#333" stroke-width="1.2"/>
<rect x="587.75" y="738.49" width="11.90" height="45.41" fill="#fff" stroke="#000" stroke-width="1.25"/>
<line x1="525.40" y1="724.80" x2="542.40" y2="724.80" stroke="#000" stroke-width="1.3"/>
<use href="#star" transform="translate(526.90,715.90) scale(1.000)"/>
<use href="#star" transform="translate(534.60,715.90) scale(1.000)"/>
<use href="#star" transform="translate(542.30,715.90) scale(1.000)"/>
<line x1="543.00" y1="700.90" x2="559.50" y2="700.90" stroke="#000" stroke-width="1.3"/>
<use href="#star" transform="translate(547.25,692.00) scale(1.000)"/>
<use href="#star" transform="translate(554.95,692.00) scale(1.000)"/>
<line x1="560.30" y1="714.90" x2="593.70" y2="714.90" stroke="#000" stroke-width="1.3"/>
<use href="#star" transform="translate(569.40,706.00) scale(1.000)"/>
<use href="#star" transform="translate(577.10,706.00) scale(1.000)"/>
<use href="#star" transform="translate(584.80,706.00) scale(1.000)"/>
<line x1="543.00" y1="674.90" x2="576.60" y2="674.90" stroke="#000" stroke-width="1.3"/>
<use href="#star" transform="translate(552.60,666.00) scale(1.000)"/>
<use href="#star" transform="translate(560.30,666.00) scale(1.000)"/>
<use href="#star" transform="translate(568.00,666.00) scale(1.000)"/>
<text x="0" y="0" transform="translate(485.50,744.80) rotate(-90)" font-size="10.8" text-anchor="middle" font-weight="bold" font-family='"Liberation Serif", serif' fill="#000" stroke="#000" stroke-width="0.25" >IL-18 in supernatant(ng/ml)</text>
<text x="0" y="0" transform="translate(528.90,801.40) scale(1,1.01) rotate(-45)" font-size="10.8" text-anchor="end" font-weight="bold" font-family='"Liberation Serif", serif' fill="#000" stroke="#000" stroke-width="0.25" >control</text>
<text x="0" y="0" transform="translate(545.90,801.40) scale(1,1.01) rotate(-45)" font-size="10.8" text-anchor="end" font-weight="bold" font-family='"Liberation Serif", serif' fill="#000" stroke="#000" stroke-width="0.25" >LPS</text>
<text x="0" y="0" transform="translate(563.00,801.40) scale(1,1.01) rotate(-45)" font-size="10.8" text-anchor="end" font-weight="bold" font-family='"Liberation Serif", serif' fill="#000" stroke="#000" stroke-width="0.25" >LPS+XAV939</text>
<text x="0" y="0" transform="translate(580.10,801.40) scale(1,1.01) rotate(-45)" font-size="10.8" text-anchor="end" font-weight="bold" font-family='"Liberation Serif", serif' fill="#000" stroke="#000" stroke-width="0.25" >LPS+LiCl</text>
<text x="0" y="0" transform="translate(597.20,801.40) scale(1,1.01) rotate(-45)" font-size="10.8" text-anchor="end" font-weight="bold" font-family='"Liberation Serif", serif' fill="#000" stroke="#000" stroke-width="0.25" >LPS+XAV939+FBP</text>
<line x1="688.10" y1="704.99" x2="688.10" y2="784.60" stroke="#000" stroke-width="1.45"/>
<line x1="687.40" y1="783.90" x2="778.00" y2="783.90" stroke="#000" stroke-width="1.45"/>
<line x1="683.10" y1="783.90" x2="688.10" y2="783.90" stroke="#000" stroke-width="1.3"/>
<text x="0" y="0" transform="translate(681.30,787.90) scale(1,1.06)" font-size="10.3" text-anchor="end" font-weight="bold" font-family='"Liberation Serif", serif' fill="#000" stroke="#000" stroke-width="0.25" >0</text>
<line x1="683.10" y1="757.83" x2="688.10" y2="757.83" stroke="#000" stroke-width="1.3"/>
<text x="0" y="0" transform="translate(681.30,761.83) scale(1,1.06)" font-size="10.3" text-anchor="end" font-weight="bold" font-family='"Liberation Serif", serif' fill="#000" stroke="#000" stroke-width="0.25" >1</text>
<line x1="683.10" y1="731.76" x2="688.10" y2="731.76" stroke="#000" stroke-width="1.3"/>
<text x="0" y="0" transform="translate(681.30,735.76) scale(1,1.06)" font-size="10.3" text-anchor="end" font-weight="bold" font-family='"Liberation Serif", serif' fill="#000" stroke="#000" stroke-width="0.25" >2</text>
<line x1="683.10" y1="705.69" x2="688.10" y2="705.69" stroke="#000" stroke-width="1.3"/>
<text x="0" y="0" transform="translate(681.30,709.69) scale(1,1.06)" font-size="10.3" text-anchor="end" font-weight="bold" font-family='"Liberation Serif", serif' fill="#000" stroke="#000" stroke-width="0.25" >3</text>
<line x1="699.90" y1="783.90" x2="699.90" y2="789.90" stroke="#000" stroke-width="1.25"/>
<line x1="716.20" y1="783.90" x2="716.20" y2="789.90" stroke="#000" stroke-width="1.25"/>
<line x1="732.00" y1="783.90" x2="732.00" y2="789.90" stroke="#000" stroke-width="1.25"/>
<line x1="748.20" y1="783.90" x2="748.20" y2="789.90" stroke="#000" stroke-width="1.25"/>
<line x1="764.30" y1="783.90" x2="764.30" y2="789.90" stroke="#000" stroke-width="1.25"/>
<line x1="699.90" y1="769.20" x2="699.90" y2="764.79" stroke="#333" stroke-width="1.2"/>
<line x1="697.40" y1="764.79" x2="702.40" y2="764.79" stroke="#333" stroke-width="1.2"/>
<rect x="693.95" y="769.20" width="11.90" height="14.70" fill="#fff" stroke="#000" stroke-width="1.25"/>
<line x1="716.20" y1="741.67" x2="716.20" y2="735.15" stroke="#333" stroke-width="1.2"/>
<line x1="713.70" y1="735.15" x2="718.70" y2="735.15" stroke="#333" stroke-width="1.2"/>
<rect x="710.25" y="741.67" width="11.90" height="42.23" fill="#fff" stroke="#000" stroke-width="1.25"/>
<line x1="732.00" y1="760.80" x2="732.00" y2="758.69" stroke="#333" stroke-width="1.2"/>
<line x1="729.50" y1="758.69" x2="734.50" y2="758.69" stroke="#333" stroke-width="1.2"/>
<rect x="726.05" y="760.80" width="11.90" height="23.10" fill="#fff" stroke="#000" stroke-width="1.25"/>
<line x1="748.20" y1="728.01" x2="748.20" y2="721.98" stroke="#333" stroke-width="1.2"/>
<line x1="745.70" y1="721.98" x2="750.70" y2="721.98" stroke="#333" stroke-width="1.2"/>
<rect x="742.25" y="728.01" width="11.90" height="55.89" fill="#fff" stroke="#000" stroke-width="1.25"/>
<line x1="764.30" y1="746.41" x2="764.30" y2="743.75" stroke="#333" stroke-width="1.2"/>
<line x1="761.80" y1="743.75" x2="766.80" y2="743.75" stroke="#333" stroke-width="1.2"/>
<rect x="758.35" y="746.41" width="11.90" height="37.49" fill="#fff" stroke="#000" stroke-width="1.25"/>
<line x1="699.90" y1="729.80" x2="716.20" y2="729.80" stroke="#000" stroke-width="1.3"/>
<use href="#star" transform="translate(699.30,720.90) scale(1.000)"/>
<use href="#star" transform="translate(707.00,720.90) scale(1.000)"/>
<use href="#star" transform="translate(714.70,720.90) scale(1.000)"/>
<line x1="718.80" y1="701.20" x2="729.30" y2="701.20" stroke="#000" stroke-width="1.3"/>
<use href="#star" transform="translate(720.25,692.30) scale(1.000)"/>
<use href="#star" transform="translate(727.95,692.30) scale(1.000)"/>
<line x1="735.10" y1="710.40" x2="764.30" y2="710.40" stroke="#000" stroke-width="1.3"/>
<use href="#star" transform="translate(749.60,701.50) scale(1.000)"/>
<line x1="716.20" y1="673.40" x2="748.20" y2="673.40" stroke="#000" stroke-width="1.3"/>
<use href="#star" transform="translate(732.50,664.50) scale(1.000)"/>
<text x="0" y="0" transform="translate(670.30,744.55) rotate(-90)" font-size="10.85" text-anchor="middle" font-weight="bold" font-family='"Liberation Serif", serif' fill="#000" stroke="#000" stroke-width="0.25" >IL-1β in supernatant(ng/ml)</text>
<text x="0" y="0" transform="translate(703.40,801.40) scale(1,1.01) rotate(-45)" font-size="10.8" text-anchor="end" font-weight="bold" font-family='"Liberation Serif", serif' fill="#000" stroke="#000" stroke-width="0.25" >control</text>
<text x="0" y="0" transform="translate(719.70,801.40) scale(1,1.01) rotate(-45)" font-size="10.8" text-anchor="end" font-weight="bold" font-family='"Liberation Serif", serif' fill="#000" stroke="#000" stroke-width="0.25" >LPS</text>
<text x="0" y="0" transform="translate(735.50,801.40) scale(1,1.01) rotate(-45)" font-size="10.8" text-anchor="end" font-weight="bold" font-family='"Liberation Serif", serif' fill="#000" stroke="#000" stroke-width="0.25" >LPS+XAV939</text>
<text x="0" y="0" transform="translate(751.70,801.40) scale(1,1.01) rotate(-45)" font-size="10.8" text-anchor="end" font-weight="bold" font-family='"Liberation Serif", serif' fill="#000" stroke="#000" stroke-width="0.25" >LPS+LiCl</text>
<text x="0" y="0" transform="translate(767.80,801.40) scale(1,1.01) rotate(-45)" font-size="10.8" text-anchor="end" font-weight="bold" font-family='"Liberation Serif", serif' fill="#000" stroke="#000" stroke-width="0.25" >LPS+XAV939+FBP</text>
<text x="0" y="0" transform="translate(0.10,17.90) scale(1,1.06)" font-size="15.5" text-anchor="start" font-weight="bold" font-family='"Liberation Serif", serif' fill="#000" stroke="#000" stroke-width="0.25" >A</text>
<text x="0" y="0" transform="translate(123.00,241.00) scale(1,1.06)" font-size="15.5" text-anchor="start" font-weight="bold" font-family='"Liberation Serif", serif' fill="#000" stroke="#000" stroke-width="0.25" >B</text>
<text x="0" y="0" transform="translate(284.30,241.30) scale(1,1.06)" font-size="15.5" text-anchor="start" font-weight="bold" font-family='"Liberation Serif", serif' fill="#000" stroke="#000" stroke-width="0.25" >C</text>
<text x="0" y="0" transform="translate(450.40,241.30) scale(1,1.06)" font-size="15.5" text-anchor="start" font-weight="bold" font-family='"Liberation Serif", serif' fill="#000" stroke="#000" stroke-width="0.25" >D</text>
<text x="0" y="0" transform="translate(618.70,241.70) scale(1,1.06)" font-size="15.5" text-anchor="start" font-weight="bold" font-family='"Liberation Serif", serif' fill="#000" stroke="#000" stroke-width="0.25" >E</text>
<text x="0" y="0" transform="translate(1.50,423.30) scale(1,1.06)" font-size="15.5" text-anchor="start" font-weight="bold" font-family='"Liberation Serif", serif' fill="#000" stroke="#000" stroke-width="0.25" >F</text>
<text x="0" y="0" transform="translate(105.90,675.60) scale(1,1.06)" font-size="15.5" text-anchor="start" font-weight="bold" font-family='"Liberation Serif", serif' fill="#000" stroke="#000" stroke-width="0.25" >G</text>
<text x="0" y="0" transform="translate(290.50,675.50) scale(1,1.06)" font-size="15.5" text-anchor="start" font-weight="bold" font-family='"Liberation Serif", serif' fill="#000" stroke="#000" stroke-width="0.25" >H</text>
<text x="0" y="0" transform="translate(497.30,675.50) scale(1,1.06)" font-size="15.5" text-anchor="start" font-weight="bold" font-family='"Liberation Serif", serif' fill="#000" stroke="#000" stroke-width="0.25" >I</text>
<text x="0" y="0" transform="translate(641.30,675.50) scale(1,1.06)" font-size="15.5" text-anchor="start" font-weight="bold" font-family='"Liberation Serif", serif' fill="#000" stroke="#000" stroke-width="0.25" >J</text>
<line x1="376.20" y1="498.90" x2="376.20" y2="603.50" stroke="#000" stroke-width="1.45"/>
<line x1="375.50" y1="602.80" x2="741.90" y2="602.80" stroke="#000" stroke-width="1.45"/>
<line x1="371.20" y1="602.80" x2="376.20" y2="602.80" stroke="#000" stroke-width="1.3"/>
<text x="0" y="0" transform="translate(368.40,606.40) scale(1,1.06)" font-size="10.3" text-anchor="end" font-weight="bold" font-family='"Liberation Serif", serif' fill="#000" stroke="#000" stroke-width="0.25" >0.0</text>
<line x1="371.20" y1="568.40" x2="376.20" y2="568.40" stroke="#000" stroke-width="1.3"/>
<text x="0" y="0" transform="translate(368.40,572.00) scale(1,1.06)" font-size="10.3" text-anchor="end" font-weight="bold" font-family='"Liberation Serif", serif' fill="#000" stroke="#000" stroke-width="0.25" >0.5</text>
<line x1="371.20" y1="534.00" x2="376.20" y2="534.00" stroke="#000" stroke-width="1.3"/>
<text x="0" y="0" transform="translate(368.40,537.60) scale(1,1.06)" font-size="10.3" text-anchor="end" font-weight="bold" font-family='"Liberation Serif", serif' fill="#000" stroke="#000" stroke-width="0.25" >1.0</text>
<line x1="371.20" y1="499.60" x2="376.20" y2="499.60" stroke="#000" stroke-width="1.3"/>
<text x="0" y="0" transform="translate(368.40,503.20) scale(1,1.06)" font-size="10.3" text-anchor="end" font-weight="bold" font-family='"Liberation Serif", serif' fill="#000" stroke="#000" stroke-width="0.25" >1.5</text>
<line x1="373.60" y1="585.60" x2="376.20" y2="585.60" stroke="#000" stroke-width="1.2"/>
<line x1="373.60" y1="551.20" x2="376.20" y2="551.20" stroke="#000" stroke-width="1.2"/>
<line x1="373.60" y1="516.80" x2="376.20" y2="516.80" stroke="#000" stroke-width="1.2"/>
<line x1="420.30" y1="602.80" x2="420.30" y2="607.80" stroke="#000" stroke-width="1.25"/>
<line x1="388.10" y1="581.20" x2="388.10" y2="578.03" stroke="#3a3a3a" stroke-width="1.2"/>
<line x1="385.60" y1="578.03" x2="390.60" y2="578.03" stroke="#3a3a3a" stroke-width="1.2"/>
<rect x="382.75" y="581.20" width="10.70" height="21.60" fill="#fff" stroke="#000" stroke-width="1.25"/>
<line x1="404.20" y1="567.30" x2="404.20" y2="564.20" stroke="#3a3a3a" stroke-width="1.2"/>
<line x1="401.70" y1="564.20" x2="406.70" y2="564.20" stroke="#3a3a3a" stroke-width="1.2"/>
<rect x="398.85" y="567.30" width="10.70" height="35.50" fill="url(#pcross)" stroke="#000" stroke-width="1.25"/>
<line x1="420.30" y1="578.72" x2="420.30" y2="575.62" stroke="#3a3a3a" stroke-width="1.2"/>
<line x1="417.80" y1="575.62" x2="422.80" y2="575.62" stroke="#3a3a3a" stroke-width="1.2"/>
<rect x="414.95" y="578.72" width="10.70" height="24.08" fill="url(#pdiag)" stroke="#000" stroke-width="1.25"/>
<line x1="436.40" y1="552.51" x2="436.40" y2="547.90" stroke="#3a3a3a" stroke-width="1.2"/>
<line x1="433.90" y1="547.90" x2="438.90" y2="547.90" stroke="#3a3a3a" stroke-width="1.2"/>
<rect x="431.05" y="552.51" width="10.70" height="50.29" fill="url(#phor)" stroke="#000" stroke-width="1.25"/>
<line x1="452.50" y1="563.58" x2="452.50" y2="560.49" stroke="#3a3a3a" stroke-width="1.2"/>
<line x1="450.00" y1="560.49" x2="455.00" y2="560.49" stroke="#3a3a3a" stroke-width="1.2"/>
<rect x="447.15" y="563.58" width="10.70" height="39.22" fill="url(#pver)" stroke="#000" stroke-width="1.25"/>
<line x1="513.40" y1="602.80" x2="513.40" y2="607.80" stroke="#000" stroke-width="1.25"/>
<line x1="481.20" y1="566.40" x2="481.20" y2="560.49" stroke="#3a3a3a" stroke-width="1.2"/>
<line x1="478.70" y1="560.49" x2="483.70" y2="560.49" stroke="#3a3a3a" stroke-width="1.2"/>
<rect x="475.85" y="566.40" width="10.70" height="36.40" fill="#fff" stroke="#000" stroke-width="1.25"/>
<line x1="497.30" y1="551.61" x2="497.30" y2="544.80" stroke="#3a3a3a" stroke-width="1.2"/>
<line x1="494.80" y1="544.80" x2="499.80" y2="544.80" stroke="#3a3a3a" stroke-width="1.2"/>
<rect x="491.95" y="551.61" width="10.70" height="51.19" fill="url(#pcross)" stroke="#000" stroke-width="1.25"/>
<line x1="513.40" y1="564.82" x2="513.40" y2="561.73" stroke="#3a3a3a" stroke-width="1.2"/>
<line x1="510.90" y1="561.73" x2="515.90" y2="561.73" stroke="#3a3a3a" stroke-width="1.2"/>
<rect x="508.05" y="564.82" width="10.70" height="37.98" fill="url(#pdiag)" stroke="#000" stroke-width="1.25"/>
<line x1="529.50" y1="540.47" x2="529.50" y2="536.41" stroke="#3a3a3a" stroke-width="1.2"/>
<line x1="527.00" y1="536.41" x2="532.00" y2="536.41" stroke="#3a3a3a" stroke-width="1.2"/>
<rect x="524.15" y="540.47" width="10.70" height="62.33" fill="url(#phor)" stroke="#000" stroke-width="1.25"/>
<line x1="545.60" y1="550.92" x2="545.60" y2="547.21" stroke="#3a3a3a" stroke-width="1.2"/>
<line x1="543.10" y1="547.21" x2="548.10" y2="547.21" stroke="#3a3a3a" stroke-width="1.2"/>
<rect x="540.25" y="550.92" width="10.70" height="51.88" fill="url(#pver)" stroke="#000" stroke-width="1.25"/>
<line x1="605.80" y1="602.80" x2="605.80" y2="607.80" stroke="#000" stroke-width="1.25"/>
<line x1="573.60" y1="558.63" x2="573.60" y2="553.13" stroke="#3a3a3a" stroke-width="1.2"/>
<line x1="571.10" y1="553.13" x2="576.10" y2="553.13" stroke="#3a3a3a" stroke-width="1.2"/>
<rect x="568.25" y="558.63" width="10.70" height="44.17" fill="#fff" stroke="#000" stroke-width="1.25"/>
<line x1="589.70" y1="546.73" x2="589.70" y2="542.39" stroke="#3a3a3a" stroke-width="1.2"/>
<line x1="587.20" y1="542.39" x2="592.20" y2="542.39" stroke="#3a3a3a" stroke-width="1.2"/>
<rect x="584.35" y="546.73" width="10.70" height="56.07" fill="url(#pcross)" stroke="#000" stroke-width="1.25"/>
<line x1="605.80" y1="559.87" x2="605.80" y2="555.33" stroke="#3a3a3a" stroke-width="1.2"/>
<line x1="603.30" y1="555.33" x2="608.30" y2="555.33" stroke="#3a3a3a" stroke-width="1.2"/>
<rect x="600.45" y="559.87" width="10.70" height="42.93" fill="url(#pdiag)" stroke="#000" stroke-width="1.25"/>
<line x1="621.90" y1="536.27" x2="621.90" y2="531.39" stroke="#3a3a3a" stroke-width="1.2"/>
<line x1="619.40" y1="531.39" x2="624.40" y2="531.39" stroke="#3a3a3a" stroke-width="1.2"/>
<rect x="616.55" y="536.27" width="10.70" height="66.53" fill="url(#phor)" stroke="#000" stroke-width="1.25"/>
<line x1="638.00" y1="545.49" x2="638.00" y2="539.50" stroke="#3a3a3a" stroke-width="1.2"/>
<line x1="635.50" y1="539.50" x2="640.50" y2="539.50" stroke="#3a3a3a" stroke-width="1.2"/>
<rect x="632.65" y="545.49" width="10.70" height="57.31" fill="url(#pver)" stroke="#000" stroke-width="1.25"/>
<line x1="698.20" y1="602.80" x2="698.20" y2="607.80" stroke="#000" stroke-width="1.25"/>
<line x1="666.00" y1="568.40" x2="666.00" y2="563.52" stroke="#3a3a3a" stroke-width="1.2"/>
<line x1="663.50" y1="563.52" x2="668.50" y2="563.52" stroke="#3a3a3a" stroke-width="1.2"/>
<rect x="660.65" y="568.40" width="10.70" height="34.40" fill="#fff" stroke="#000" stroke-width="1.25"/>
<line x1="682.10" y1="554.71" x2="682.10" y2="548.52" stroke="#3a3a3a" stroke-width="1.2"/>
<line x1="679.60" y1="548.52" x2="684.60" y2="548.52" stroke="#3a3a3a" stroke-width="1.2"/>
<rect x="676.75" y="554.71" width="10.70" height="48.09" fill="url(#pcross)" stroke="#000" stroke-width="1.25"/>
<line x1="698.20" y1="565.10" x2="698.20" y2="562.28" stroke="#3a3a3a" stroke-width="1.2"/>
<line x1="695.70" y1="562.28" x2="700.70" y2="562.28" stroke="#3a3a3a" stroke-width="1.2"/>
<rect x="692.85" y="565.10" width="10.70" height="37.70" fill="url(#pdiag)" stroke="#000" stroke-width="1.25"/>
<line x1="714.30" y1="542.39" x2="714.30" y2="534.48" stroke="#3a3a3a" stroke-width="1.2"/>
<line x1="711.80" y1="534.48" x2="716.80" y2="534.48" stroke="#3a3a3a" stroke-width="1.2"/>
<rect x="708.95" y="542.39" width="10.70" height="60.41" fill="url(#phor)" stroke="#000" stroke-width="1.25"/>
<line x1="730.40" y1="552.23" x2="730.40" y2="547.62" stroke="#3a3a3a" stroke-width="1.2"/>
<line x1="727.90" y1="547.62" x2="732.90" y2="547.62" stroke="#3a3a3a" stroke-width="1.2"/>
<rect x="725.05" y="552.23" width="10.70" height="50.57" fill="url(#pver)" stroke="#000" stroke-width="1.25"/>
<line x1="388.90" y1="516.00" x2="401.30" y2="516.00" stroke="#000" stroke-width="1.3"/>
<use href="#star" transform="translate(391.55,507.10) scale(1.000)"/>
<use href="#star" transform="translate(399.25,507.10) scale(1.000)"/>
<line x1="407.80" y1="516.00" x2="436.20" y2="516.00" stroke="#000" stroke-width="1.3"/>
<use href="#star" transform="translate(418.15,507.10) scale(1.000)"/>
<use href="#star" transform="translate(425.85,507.10) scale(1.000)"/>
<line x1="405.10" y1="487.90" x2="417.50" y2="487.90" stroke="#000" stroke-width="1.3"/>
<use href="#star" transform="translate(411.60,479.00) scale(1.000)"/>
<line x1="424.00" y1="487.90" x2="452.40" y2="487.90" stroke="#000" stroke-width="1.3"/>
<use href="#star" transform="translate(434.35,479.00) scale(1.000)"/>
<use href="#star" transform="translate(442.05,479.00) scale(1.000)"/>
<line x1="481.10" y1="487.90" x2="494.40" y2="487.90" stroke="#000" stroke-width="1.3"/>
<use href="#star" transform="translate(484.05,479.00) scale(1.000)"/>
<use href="#star" transform="translate(491.75,479.00) scale(1.000)"/>
<line x1="500.90" y1="487.90" x2="529.30" y2="487.90" stroke="#000" stroke-width="1.3"/>
<use href="#star" transform="translate(514.50,479.00) scale(1.000)"/>
<line x1="497.40" y1="516.00" x2="510.00" y2="516.00" stroke="#000" stroke-width="1.3"/>
<use href="#star" transform="translate(500.05,507.10) scale(1.000)"/>
<use href="#star" transform="translate(507.75,507.10) scale(1.000)"/>
<line x1="516.60" y1="516.00" x2="545.20" y2="516.00" stroke="#000" stroke-width="1.3"/>
<use href="#star" transform="translate(526.65,507.10) scale(1.000)"/>
<use href="#star" transform="translate(534.35,507.10) scale(1.000)"/>
<line x1="574.30" y1="488.00" x2="586.80" y2="488.00" stroke="#000" stroke-width="1.3"/>
<use href="#star" transform="translate(580.40,479.10) scale(1.000)"/>
<line x1="592.90" y1="488.00" x2="622.00" y2="488.00" stroke="#000" stroke-width="1.3"/>
<use href="#star" transform="translate(607.30,479.10) scale(1.000)"/>
<line x1="590.50" y1="515.30" x2="603.30" y2="515.30" stroke="#000" stroke-width="1.3"/>
<use href="#star" transform="translate(593.05,506.40) scale(1.000)"/>
<use href="#star" transform="translate(600.75,506.40) scale(1.000)"/>
<line x1="609.10" y1="515.30" x2="637.90" y2="515.30" stroke="#000" stroke-width="1.3"/>
<use href="#star" transform="translate(619.35,506.40) scale(1.000)"/>
<use href="#star" transform="translate(627.05,506.40) scale(1.000)"/>
<line x1="666.30" y1="488.00" x2="679.80" y2="488.00" stroke="#000" stroke-width="1.3"/>
<use href="#star" transform="translate(669.25,479.10) scale(1.000)"/>
<use href="#star" transform="translate(676.95,479.10) scale(1.000)"/>
<line x1="685.30" y1="488.00" x2="714.40" y2="488.00" stroke="#000" stroke-width="1.3"/>
<use href="#star" transform="translate(699.70,479.10) scale(1.000)"/>
<line x1="682.90" y1="515.30" x2="696.00" y2="515.30" stroke="#000" stroke-width="1.3"/>
<use href="#star" transform="translate(689.30,506.40) scale(1.000)"/>
<line x1="701.50" y1="515.30" x2="730.60" y2="515.30" stroke="#000" stroke-width="1.3"/>
<use href="#star" transform="translate(712.05,506.40) scale(1.000)"/>
<use href="#star" transform="translate(719.75,506.40) scale(1.000)"/>
<text x="0" y="0" transform="translate(420.30,620.30) scale(1,1.06)" font-size="10.5" text-anchor="middle" font-weight="bold" font-family='"Liberation Serif", serif' fill="#000" stroke="#000" stroke-width="0.25" letter-spacing="0.4">NLRP3</text>
<text x="0" y="0" transform="translate(513.40,620.30) scale(1,1.06)" font-size="10.5" text-anchor="middle" font-weight="bold" font-family='"Liberation Serif", serif' fill="#000" stroke="#000" stroke-width="0.25" letter-spacing="0.4">pro-caspase1</text>
<text x="0" y="0" transform="translate(605.80,620.30) scale(1,1.06)" font-size="10.5" text-anchor="middle" font-weight="bold" font-family='"Liberation Serif", serif' fill="#000" stroke="#000" stroke-width="0.25" letter-spacing="0.4">caspase1</text>
<text x="0" y="0" transform="translate(698.20,620.30) scale(1,1.06)" font-size="10.5" text-anchor="middle" font-weight="bold" font-family='"Liberation Serif", serif' fill="#000" stroke="#000" stroke-width="0.25" letter-spacing="0.4">ASC</text>
<text x="0" y="0" transform="translate(336.00,551.30) rotate(-90)" font-size="11.1" text-anchor="middle" font-weight="normal" font-family='"Liberation Serif", serif' fill="#000" stroke="#000" stroke-width="0.6" >Relative&#160;&#160;protein</text>
<text x="0" y="0" transform="translate(349.40,550.50) rotate(-90)" font-size="11.0" text-anchor="middle" font-weight="normal" font-family='"Liberation Serif", serif' fill="#000" stroke="#000" stroke-width="0.6" >expression</text>
<rect x="338.30" y="450.8" width="13.4" height="5.6" fill="#fff" stroke="#000" stroke-width="1.3"/>
<text x="0" y="0" transform="translate(360.80,457.00) scale(1,1.06)" font-size="11" text-anchor="start" font-weight="bold" font-family='"Liberation Serif", serif' fill="#000" stroke="#000" stroke-width="0.25" >control</text>
<rect x="416.70" y="450.8" width="13.4" height="5.6" fill="url(#pcross)" stroke="#000" stroke-width="1.3"/>
<text x="0" y="0" transform="translate(439.70,457.00) scale(1,1.06)" font-size="11" text-anchor="start" font-weight="bold" font-family='"Liberation Serif", serif' fill="#000" stroke="#000" stroke-width="0.25" >LPS</text>
<rect x="471.30" y="450.8" width="13.4" height="5.6" fill="url(#pdiag)" stroke="#000" stroke-width="1.3"/>
<text x="0" y="0" transform="translate(494.40,457.00) scale(1,1.06)" font-size="11" text-anchor="start" font-weight="bold" font-family='"Liberation Serif", serif' fill="#000" stroke="#000" stroke-width="0.25" >LPS+XAV939</text>
<rect x="573.00" y="450.8" width="13.4" height="5.6" fill="url(#phor)" stroke="#000" stroke-width="1.3"/>
<text x="0" y="0" transform="translate(595.10,457.00) scale(1,1.06)" font-size="11" text-anchor="start" font-weight="bold" font-family='"Liberation Serif", serif' fill="#000" stroke="#000" stroke-width="0.25" >LPS+LiCl</text>
<rect x="659.30" y="450.8" width="13.4" height="5.6" fill="url(#pver)" stroke="#000" stroke-width="1.3"/>
<text x="0" y="0" transform="translate(681.30,457.00) scale(1,1.06)" font-size="11" text-anchor="start" font-weight="bold" font-family='"Liberation Serif", serif' fill="#000" stroke="#000" stroke-width="0.25" >LPS+XAV939+FBP</text>
</svg></body></html>
